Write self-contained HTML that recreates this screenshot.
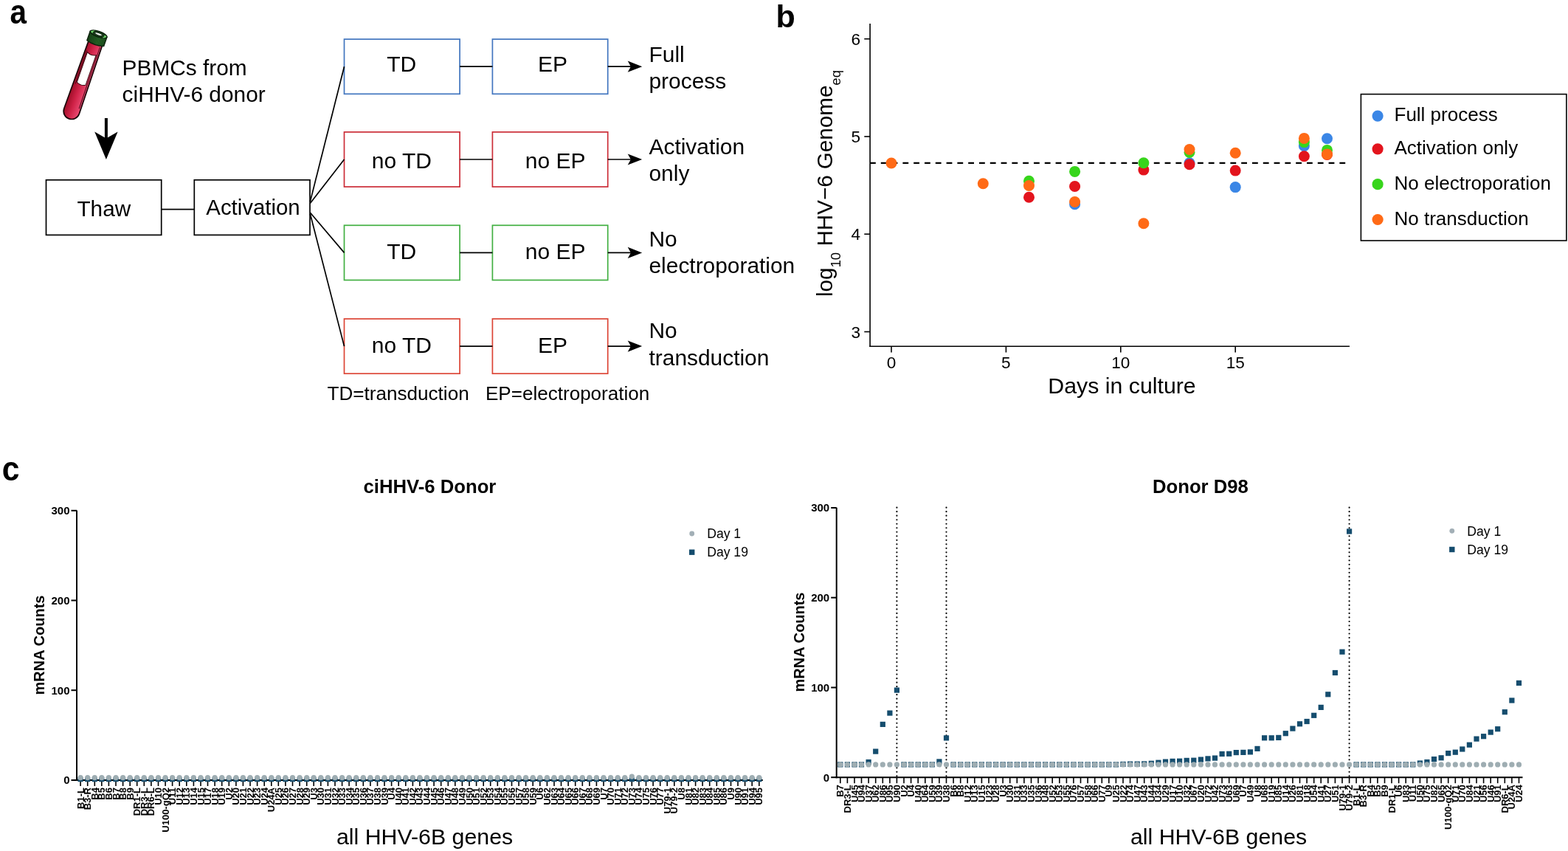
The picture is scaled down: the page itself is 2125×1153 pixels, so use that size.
<!DOCTYPE html>
<html><head><meta charset="utf-8"><title>Figure</title>
<style>html,body{margin:0;padding:0;background:#fff;} svg{display:block;}</style>
</head><body>
<svg width="2125" height="1153" viewBox="0 0 2125 1153" font-family="'Liberation Sans', Arial, Helvetica, sans-serif">
<rect width="2125" height="1153" fill="#fff"/>
<text transform="translate(13.4,32.1) scale(0.94,1.07)" font-size="43" font-weight="bold" fill="#000">a</text>
<defs><linearGradient id="tg" x1="-10" y1="0" x2="10" y2="0" gradientUnits="userSpaceOnUse"><stop offset="0" stop-color="#a30f2a"/><stop offset="0.45" stop-color="#cf2247"/><stop offset="1" stop-color="#ea4a72"/></linearGradient><linearGradient id="cg" x1="-12" y1="0" x2="12" y2="0" gradientUnits="userSpaceOnUse"><stop offset="0" stop-color="#1d4d1d"/><stop offset="0.6" stop-color="#2f7a2f"/><stop offset="1" stop-color="#245f24"/></linearGradient></defs>
<g transform="translate(133.6,46.3) rotate(19.3)">
<path d="M-9.8,12 L-10.9,110.5 A10.9,10.9 0 0 0 10.9,110.5 L9.8,12 Z" fill="url(#tg)" stroke="#1a0508" stroke-width="1.7"/>
<path d="M-6.2,28 Q0,31.5 6.2,28 L6.2,71 Q0,74.5 -6.2,71 Z" fill="#fff" stroke="#3a0a12" stroke-width="1"/>
<line x1="7.6" y1="16" x2="8.4" y2="104" stroke="#4a0a18" stroke-width="1"/>
<line x1="-7.6" y1="26" x2="-7.6" y2="74" stroke="#4a0a18" stroke-width="1"/>
<path d="M-12,0 L-12,13 Q0,17 12,13 L12,0 Z" fill="url(#cg)" stroke="#0b200b" stroke-width="1.5"/>
<line x1="-10" y1="2" x2="-10" y2="14.5" stroke="#123312" stroke-width="0.8"/>
<line x1="-8" y1="2" x2="-8" y2="14.5" stroke="#123312" stroke-width="0.8"/>
<line x1="-6" y1="2" x2="-6" y2="14.5" stroke="#123312" stroke-width="0.8"/>
<line x1="-4" y1="2" x2="-4" y2="14.5" stroke="#123312" stroke-width="0.8"/>
<line x1="-2" y1="2" x2="-2" y2="14.5" stroke="#123312" stroke-width="0.8"/>
<line x1="0" y1="2" x2="0" y2="14.5" stroke="#123312" stroke-width="0.8"/>
<line x1="2" y1="2" x2="2" y2="14.5" stroke="#123312" stroke-width="0.8"/>
<line x1="4" y1="2" x2="4" y2="14.5" stroke="#123312" stroke-width="0.8"/>
<line x1="6" y1="2" x2="6" y2="14.5" stroke="#123312" stroke-width="0.8"/>
<line x1="8" y1="2" x2="8" y2="14.5" stroke="#123312" stroke-width="0.8"/>
<line x1="10" y1="2" x2="10" y2="14.5" stroke="#123312" stroke-width="0.8"/>
<ellipse cx="0" cy="0" rx="12" ry="3.8" fill="#163816" stroke="#0b200b" stroke-width="1.4"/>
<path d="M-11.5,0.3 Q-10,-2.6 -6,-3 Q-9,-1 -8,1.8 Z" fill="#6fd36a"/>
<path d="M11.5,-0.3 Q10,2.6 6,3 Q9,1 8,-1.8 Z" fill="#6fd36a"/>
<ellipse cx="0" cy="0" rx="5.2" ry="1.7" fill="#e8f0e8" stroke="#0e240e" stroke-width="0.9"/>
</g>
<line x1="143.9" y1="160" x2="143.9" y2="190" stroke="#000" stroke-width="4"/>
<path d="M128.2,178.6 L143.9,187.5 L159.6,178.6 L143.9,216 Z" fill="#000"/>
<text x="165.6" y="101.8" font-size="29.85" fill="#000">PBMCs from</text>
<text x="165.6" y="137.5" font-size="29.85" fill="#000">ciHHV-6 donor</text>
<rect x="62.5" y="243.8" width="156.2" height="74.6" fill="none" stroke-width="1.7" stroke="#000"/>
<rect x="263.3" y="243.8" width="156.7" height="74.6" fill="none" stroke-width="1.7" stroke="#000"/>
<line x1="218.7" y1="283.6" x2="263.3" y2="283.6" stroke="#000" stroke-width="1.7"/>
<text x="140.8" y="292.5" font-size="29.7" text-anchor="middle" fill="#000">Thaw</text>
<text x="343" y="291.3" font-size="29.4" text-anchor="middle" fill="#000">Activation</text>
<rect x="466.5" y="53.1" width="156.6" height="74.2" fill="none" stroke-width="1.7" stroke="#4276bf"/>
<rect x="667.4" y="53.1" width="156.3" height="74.2" fill="none" stroke-width="1.7" stroke="#4276bf"/>
<line x1="623.1" y1="90.2" x2="667.4" y2="90.2" stroke="#000" stroke-width="1.7"/>
<line x1="420.3" y1="273.4" x2="466.5" y2="90.2" stroke="#000" stroke-width="1.7"/>
<line x1="823.7" y1="90.2" x2="856" y2="90.2" stroke="#000" stroke-width="1.7"/>
<path d="M850.7,82.6 L870.2,90.2 L850.7,97.8 L854.9,90.2 Z" fill="#000"/>
<text x="544.3" y="97.4" font-size="30.0" text-anchor="middle" fill="#000">TD</text>
<text x="749" y="97.4" font-size="30.0" text-anchor="middle" fill="#000">EP</text>
<text x="879.5" y="84.3" font-size="29.9" fill="#000">Full</text>
<text x="879.5" y="120.0" font-size="29.9" fill="#000">process</text>
<rect x="466.5" y="178.9" width="156.6" height="74.2" fill="none" stroke-width="1.7" stroke="#cc2e38"/>
<rect x="667.4" y="178.9" width="156.3" height="74.2" fill="none" stroke-width="1.7" stroke="#cc2e38"/>
<line x1="623.1" y1="216.0" x2="667.4" y2="216.0" stroke="#000" stroke-width="1.7"/>
<line x1="420.3" y1="275.5" x2="466.5" y2="216.0" stroke="#000" stroke-width="1.7"/>
<line x1="823.7" y1="216.0" x2="856" y2="216.0" stroke="#000" stroke-width="1.7"/>
<path d="M850.7,208.4 L870.2,216.0 L850.7,223.6 L854.9,216.0 Z" fill="#000"/>
<text x="544.3" y="228.3" font-size="30.0" text-anchor="middle" fill="#000">no TD</text>
<text x="752.7" y="228.3" font-size="30.0" text-anchor="middle" fill="#000">no EP</text>
<text x="879.5" y="209.1" font-size="29.9" fill="#000">Activation</text>
<text x="879.5" y="245.0" font-size="29.9" fill="#000">only</text>
<rect x="466.5" y="305.3" width="156.6" height="74.2" fill="none" stroke-width="1.7" stroke="#42b042"/>
<rect x="667.4" y="305.3" width="156.3" height="74.2" fill="none" stroke-width="1.7" stroke="#42b042"/>
<line x1="623.1" y1="342.4" x2="667.4" y2="342.4" stroke="#000" stroke-width="1.7"/>
<line x1="420.3" y1="288.0" x2="466.5" y2="342.4" stroke="#000" stroke-width="1.7"/>
<line x1="823.7" y1="342.4" x2="856" y2="342.4" stroke="#000" stroke-width="1.7"/>
<path d="M850.7,334.8 L870.2,342.4 L850.7,350.0 L854.9,342.4 Z" fill="#000"/>
<text x="544.3" y="350.9" font-size="30.0" text-anchor="middle" fill="#000">TD</text>
<text x="752.7" y="350.9" font-size="30.0" text-anchor="middle" fill="#000">no EP</text>
<text x="879.5" y="334.1" font-size="29.9" fill="#000">No</text>
<text x="879.5" y="370.2" font-size="29.9" fill="#000">electroporation</text>
<rect x="466.5" y="432.0" width="156.6" height="74.2" fill="none" stroke-width="1.7" stroke="#dc4536"/>
<rect x="667.4" y="432.0" width="156.3" height="74.2" fill="none" stroke-width="1.7" stroke="#dc4536"/>
<line x1="623.1" y1="469.1" x2="667.4" y2="469.1" stroke="#000" stroke-width="1.7"/>
<line x1="420.3" y1="289.5" x2="466.5" y2="469.1" stroke="#000" stroke-width="1.7"/>
<line x1="823.7" y1="469.1" x2="856" y2="469.1" stroke="#000" stroke-width="1.7"/>
<path d="M850.7,461.5 L870.2,469.1 L850.7,476.7 L854.9,469.1 Z" fill="#000"/>
<text x="544.3" y="478.4" font-size="30.0" text-anchor="middle" fill="#000">no TD</text>
<text x="749" y="478.4" font-size="30.0" text-anchor="middle" fill="#000">EP</text>
<text x="879.5" y="458.1" font-size="29.9" fill="#000">No</text>
<text x="879.5" y="495.0" font-size="29.9" fill="#000">transduction</text>
<text x="443.5" y="542.3" font-size="26.1" fill="#000">TD=transduction</text>
<text x="658.0" y="542.3" font-size="26.05" fill="#000">EP=electroporation</text>
<text x="1051.5" y="37.3" font-size="43" font-weight="bold" fill="#000">b</text>
<line x1="1179.1" y1="32" x2="1179.1" y2="470.0" stroke="#000" stroke-width="1.6"/>
<line x1="1178.3" y1="469.2" x2="1829" y2="469.2" stroke="#000" stroke-width="1.6"/>
<line x1="1171.3" y1="52.7" x2="1179.1" y2="52.7" stroke="#000" stroke-width="1.6"/>
<text x="1166" y="60.800000000000004" font-size="22.6" text-anchor="end" fill="#000">6</text>
<line x1="1171.3" y1="185.0" x2="1179.1" y2="185.0" stroke="#000" stroke-width="1.6"/>
<text x="1166" y="193.07000000000002" font-size="22.6" text-anchor="end" fill="#000">5</text>
<line x1="1171.3" y1="317.2" x2="1179.1" y2="317.2" stroke="#000" stroke-width="1.6"/>
<text x="1166" y="325.34000000000003" font-size="22.6" text-anchor="end" fill="#000">4</text>
<line x1="1171.3" y1="449.5" x2="1179.1" y2="449.5" stroke="#000" stroke-width="1.6"/>
<text x="1166" y="457.61000000000007" font-size="22.6" text-anchor="end" fill="#000">3</text>
<line x1="1208.0" y1="469.2" x2="1208.0" y2="477.5" stroke="#000" stroke-width="1.6"/>
<text x="1208.0" y="499.4" font-size="22.6" text-anchor="middle" fill="#000">0</text>
<line x1="1363.4" y1="469.2" x2="1363.4" y2="477.5" stroke="#000" stroke-width="1.6"/>
<text x="1363.4" y="499.4" font-size="22.6" text-anchor="middle" fill="#000">5</text>
<line x1="1518.8" y1="469.2" x2="1518.8" y2="477.5" stroke="#000" stroke-width="1.6"/>
<text x="1518.8" y="499.4" font-size="22.6" text-anchor="middle" fill="#000">10</text>
<line x1="1674.2" y1="469.2" x2="1674.2" y2="477.5" stroke="#000" stroke-width="1.6"/>
<text x="1674.2" y="499.4" font-size="22.6" text-anchor="middle" fill="#000">15</text>
<text x="1520.5" y="532.6" font-size="30.3" text-anchor="middle" fill="#000">Days in culture</text>
<text transform="translate(1128,402) rotate(-90)" font-size="29.6" fill="#000">log<tspan font-size="18.6" dy="11">10</tspan><tspan dy="-11"> HHV−6 Genome</tspan><tspan font-size="18.6" dy="11">eq</tspan></text>
<line x1="1179" y1="220.9" x2="1827" y2="220.9" stroke="#000" stroke-width="2.1" stroke-dasharray="7.8 7"/>
<circle cx="1456.6" cy="276.8" r="7.5" fill="#3a86e6"/>
<circle cx="1612.0" cy="220.7" r="7.5" fill="#3a86e6"/>
<circle cx="1674.2" cy="253.6" r="7.5" fill="#3a86e6"/>
<circle cx="1767.4" cy="197.8" r="7.5" fill="#3a86e6"/>
<circle cx="1798.5" cy="187.8" r="7.5" fill="#3a86e6"/>
<circle cx="1394.5" cy="267.3" r="7.5" fill="#e3141d"/>
<circle cx="1456.6" cy="252.5" r="7.5" fill="#e3141d"/>
<circle cx="1549.9" cy="230.1" r="7.5" fill="#e3141d"/>
<circle cx="1612.0" cy="222.7" r="7.5" fill="#e3141d"/>
<circle cx="1674.2" cy="231.1" r="7.5" fill="#e3141d"/>
<circle cx="1767.4" cy="211.7" r="7.5" fill="#e3141d"/>
<circle cx="1798.5" cy="209.5" r="7.5" fill="#e3141d"/>
<circle cx="1394.5" cy="245.3" r="7.5" fill="#37d51b"/>
<circle cx="1456.6" cy="232.4" r="7.5" fill="#37d51b"/>
<circle cx="1549.9" cy="220.7" r="7.5" fill="#37d51b"/>
<circle cx="1612.0" cy="206.4" r="7.5" fill="#37d51b"/>
<circle cx="1767.4" cy="192.6" r="7.5" fill="#37d51b"/>
<circle cx="1798.5" cy="203.4" r="7.5" fill="#37d51b"/>
<circle cx="1208.0" cy="221.0" r="7.5" fill="#ff6a16"/>
<circle cx="1332.3" cy="248.7" r="7.5" fill="#ff6a16"/>
<circle cx="1394.5" cy="251.5" r="7.5" fill="#ff6a16"/>
<circle cx="1456.6" cy="273.5" r="7.5" fill="#ff6a16"/>
<circle cx="1549.9" cy="302.7" r="7.5" fill="#ff6a16"/>
<circle cx="1612.0" cy="202.5" r="7.5" fill="#ff6a16"/>
<circle cx="1674.2" cy="207.3" r="7.5" fill="#ff6a16"/>
<circle cx="1767.4" cy="187.4" r="7.5" fill="#ff6a16"/>
<circle cx="1798.5" cy="208.9" r="7.5" fill="#ff6a16"/>
<rect x="1844.4" y="127.6" width="278.5" height="198.4" fill="none" stroke="#000" stroke-width="1.6"/>
<circle cx="1867.1" cy="157.1" r="7.6" fill="#3a86e6"/>
<text x="1889.5" y="164.29999999999998" font-size="26" fill="#000">Full process</text>
<circle cx="1867.1" cy="201.8" r="7.6" fill="#e3141d"/>
<text x="1889.5" y="209.0" font-size="26" fill="#000">Activation only</text>
<circle cx="1867.1" cy="249.7" r="7.6" fill="#37d51b"/>
<text x="1889.5" y="256.9" font-size="26" fill="#000">No electroporation</text>
<circle cx="1867.1" cy="297.5" r="7.6" fill="#ff6a16"/>
<text x="1889.5" y="304.7" font-size="26" fill="#000">No transduction</text>
<text transform="translate(2.8,650.5) scale(0.99,1.08)" font-size="43" font-weight="bold" fill="#000">c</text>
<line x1="104" y1="691.5" x2="104" y2="1058.0" stroke="#000" stroke-width="2"/>
<line x1="103" y1="1057.0" x2="1033.8" y2="1057.0" stroke="#000" stroke-width="2"/>
<line x1="96.5" y1="1057.0" x2="104" y2="1057.0" stroke="#000" stroke-width="2"/>
<text x="94.5" y="1062.4" font-size="15" font-weight="bold" text-anchor="end" fill="#000">0</text>
<line x1="96.5" y1="935.2" x2="104" y2="935.2" stroke="#000" stroke-width="2"/>
<text x="94.5" y="940.65" font-size="15" font-weight="bold" text-anchor="end" fill="#000">100</text>
<line x1="96.5" y1="813.5" x2="104" y2="813.5" stroke="#000" stroke-width="2"/>
<text x="94.5" y="818.9" font-size="15" font-weight="bold" text-anchor="end" fill="#000">200</text>
<line x1="96.5" y1="691.8" x2="104" y2="691.8" stroke="#000" stroke-width="2"/>
<text x="94.5" y="697.15" font-size="15" font-weight="bold" text-anchor="end" fill="#000">300</text>
<line x1="109.1" y1="1057.0" x2="109.1" y2="1065.0" stroke="#000" stroke-width="1.6"/>
<text transform="translate(113.6,1067.0) rotate(-90)" font-size="13" font-weight="bold" text-anchor="end" fill="#000">B1-L</text>
<line x1="118.7" y1="1057.0" x2="118.7" y2="1065.0" stroke="#000" stroke-width="1.6"/>
<text transform="translate(123.2,1067.0) rotate(-90)" font-size="13" font-weight="bold" text-anchor="end" fill="#000">B3-R</text>
<line x1="128.3" y1="1057.0" x2="128.3" y2="1065.0" stroke="#000" stroke-width="1.6"/>
<text transform="translate(132.8,1067.0) rotate(-90)" font-size="13" font-weight="bold" text-anchor="end" fill="#000">B4</text>
<line x1="137.8" y1="1057.0" x2="137.8" y2="1065.0" stroke="#000" stroke-width="1.6"/>
<text transform="translate(142.3,1067.0) rotate(-90)" font-size="13" font-weight="bold" text-anchor="end" fill="#000">B5</text>
<line x1="147.4" y1="1057.0" x2="147.4" y2="1065.0" stroke="#000" stroke-width="1.6"/>
<text transform="translate(151.9,1067.0) rotate(-90)" font-size="13" font-weight="bold" text-anchor="end" fill="#000">B6</text>
<line x1="157.0" y1="1057.0" x2="157.0" y2="1065.0" stroke="#000" stroke-width="1.6"/>
<text transform="translate(161.5,1067.0) rotate(-90)" font-size="13" font-weight="bold" text-anchor="end" fill="#000">B7</text>
<line x1="166.6" y1="1057.0" x2="166.6" y2="1065.0" stroke="#000" stroke-width="1.6"/>
<text transform="translate(171.1,1067.0) rotate(-90)" font-size="13" font-weight="bold" text-anchor="end" fill="#000">B8</text>
<line x1="176.2" y1="1057.0" x2="176.2" y2="1065.0" stroke="#000" stroke-width="1.6"/>
<text transform="translate(180.7,1067.0) rotate(-90)" font-size="13" font-weight="bold" text-anchor="end" fill="#000">B9</text>
<line x1="185.7" y1="1057.0" x2="185.7" y2="1065.0" stroke="#000" stroke-width="1.6"/>
<text transform="translate(190.2,1067.0) rotate(-90)" font-size="13" font-weight="bold" text-anchor="end" fill="#000">DR1-L</text>
<line x1="195.3" y1="1057.0" x2="195.3" y2="1065.0" stroke="#000" stroke-width="1.6"/>
<text transform="translate(199.8,1067.0) rotate(-90)" font-size="13" font-weight="bold" text-anchor="end" fill="#000">DR3-L</text>
<line x1="204.9" y1="1057.0" x2="204.9" y2="1065.0" stroke="#000" stroke-width="1.6"/>
<text transform="translate(209.4,1067.0) rotate(-90)" font-size="13" font-weight="bold" text-anchor="end" fill="#000">DR6-L</text>
<line x1="214.5" y1="1057.0" x2="214.5" y2="1065.0" stroke="#000" stroke-width="1.6"/>
<text transform="translate(219.0,1067.0) rotate(-90)" font-size="13" font-weight="bold" text-anchor="end" fill="#000">U10</text>
<line x1="224.1" y1="1057.0" x2="224.1" y2="1065.0" stroke="#000" stroke-width="1.6"/>
<text transform="translate(228.6,1067.0) rotate(-90)" font-size="13" font-weight="bold" text-anchor="end" fill="#000">U100-gQ2</text>
<line x1="233.6" y1="1057.0" x2="233.6" y2="1065.0" stroke="#000" stroke-width="1.6"/>
<text transform="translate(238.1,1067.0) rotate(-90)" font-size="13" font-weight="bold" text-anchor="end" fill="#000">U11</text>
<line x1="243.2" y1="1057.0" x2="243.2" y2="1065.0" stroke="#000" stroke-width="1.6"/>
<text transform="translate(247.7,1067.0) rotate(-90)" font-size="13" font-weight="bold" text-anchor="end" fill="#000">U12</text>
<line x1="252.8" y1="1057.0" x2="252.8" y2="1065.0" stroke="#000" stroke-width="1.6"/>
<text transform="translate(257.3,1067.0) rotate(-90)" font-size="13" font-weight="bold" text-anchor="end" fill="#000">U13</text>
<line x1="262.4" y1="1057.0" x2="262.4" y2="1065.0" stroke="#000" stroke-width="1.6"/>
<text transform="translate(266.9,1067.0) rotate(-90)" font-size="13" font-weight="bold" text-anchor="end" fill="#000">U14</text>
<line x1="272.0" y1="1057.0" x2="272.0" y2="1065.0" stroke="#000" stroke-width="1.6"/>
<text transform="translate(276.5,1067.0) rotate(-90)" font-size="13" font-weight="bold" text-anchor="end" fill="#000">U15</text>
<line x1="281.5" y1="1057.0" x2="281.5" y2="1065.0" stroke="#000" stroke-width="1.6"/>
<text transform="translate(286.0,1067.0) rotate(-90)" font-size="13" font-weight="bold" text-anchor="end" fill="#000">U17</text>
<line x1="291.1" y1="1057.0" x2="291.1" y2="1065.0" stroke="#000" stroke-width="1.6"/>
<text transform="translate(295.6,1067.0) rotate(-90)" font-size="13" font-weight="bold" text-anchor="end" fill="#000">U18</text>
<line x1="300.7" y1="1057.0" x2="300.7" y2="1065.0" stroke="#000" stroke-width="1.6"/>
<text transform="translate(305.2,1067.0) rotate(-90)" font-size="13" font-weight="bold" text-anchor="end" fill="#000">U19</text>
<line x1="310.3" y1="1057.0" x2="310.3" y2="1065.0" stroke="#000" stroke-width="1.6"/>
<text transform="translate(314.8,1067.0) rotate(-90)" font-size="13" font-weight="bold" text-anchor="end" fill="#000">U2</text>
<line x1="319.9" y1="1057.0" x2="319.9" y2="1065.0" stroke="#000" stroke-width="1.6"/>
<text transform="translate(324.4,1067.0) rotate(-90)" font-size="13" font-weight="bold" text-anchor="end" fill="#000">U20</text>
<line x1="329.4" y1="1057.0" x2="329.4" y2="1065.0" stroke="#000" stroke-width="1.6"/>
<text transform="translate(333.9,1067.0) rotate(-90)" font-size="13" font-weight="bold" text-anchor="end" fill="#000">U21</text>
<line x1="339.0" y1="1057.0" x2="339.0" y2="1065.0" stroke="#000" stroke-width="1.6"/>
<text transform="translate(343.5,1067.0) rotate(-90)" font-size="13" font-weight="bold" text-anchor="end" fill="#000">U22</text>
<line x1="348.6" y1="1057.0" x2="348.6" y2="1065.0" stroke="#000" stroke-width="1.6"/>
<text transform="translate(353.1,1067.0) rotate(-90)" font-size="13" font-weight="bold" text-anchor="end" fill="#000">U23</text>
<line x1="358.2" y1="1057.0" x2="358.2" y2="1065.0" stroke="#000" stroke-width="1.6"/>
<text transform="translate(362.7,1067.0) rotate(-90)" font-size="13" font-weight="bold" text-anchor="end" fill="#000">U24</text>
<line x1="367.8" y1="1057.0" x2="367.8" y2="1065.0" stroke="#000" stroke-width="1.6"/>
<text transform="translate(372.3,1067.0) rotate(-90)" font-size="13" font-weight="bold" text-anchor="end" fill="#000">U24A</text>
<line x1="377.3" y1="1057.0" x2="377.3" y2="1065.0" stroke="#000" stroke-width="1.6"/>
<text transform="translate(381.8,1067.0) rotate(-90)" font-size="13" font-weight="bold" text-anchor="end" fill="#000">U25</text>
<line x1="386.9" y1="1057.0" x2="386.9" y2="1065.0" stroke="#000" stroke-width="1.6"/>
<text transform="translate(391.4,1067.0) rotate(-90)" font-size="13" font-weight="bold" text-anchor="end" fill="#000">U26</text>
<line x1="396.5" y1="1057.0" x2="396.5" y2="1065.0" stroke="#000" stroke-width="1.6"/>
<text transform="translate(401.0,1067.0) rotate(-90)" font-size="13" font-weight="bold" text-anchor="end" fill="#000">U27</text>
<line x1="406.1" y1="1057.0" x2="406.1" y2="1065.0" stroke="#000" stroke-width="1.6"/>
<text transform="translate(410.6,1067.0) rotate(-90)" font-size="13" font-weight="bold" text-anchor="end" fill="#000">U28</text>
<line x1="415.7" y1="1057.0" x2="415.7" y2="1065.0" stroke="#000" stroke-width="1.6"/>
<text transform="translate(420.2,1067.0) rotate(-90)" font-size="13" font-weight="bold" text-anchor="end" fill="#000">U29</text>
<line x1="425.2" y1="1057.0" x2="425.2" y2="1065.0" stroke="#000" stroke-width="1.6"/>
<text transform="translate(429.7,1067.0) rotate(-90)" font-size="13" font-weight="bold" text-anchor="end" fill="#000">U3</text>
<line x1="434.8" y1="1057.0" x2="434.8" y2="1065.0" stroke="#000" stroke-width="1.6"/>
<text transform="translate(439.3,1067.0) rotate(-90)" font-size="13" font-weight="bold" text-anchor="end" fill="#000">U30</text>
<line x1="444.4" y1="1057.0" x2="444.4" y2="1065.0" stroke="#000" stroke-width="1.6"/>
<text transform="translate(448.9,1067.0) rotate(-90)" font-size="13" font-weight="bold" text-anchor="end" fill="#000">U31</text>
<line x1="454.0" y1="1057.0" x2="454.0" y2="1065.0" stroke="#000" stroke-width="1.6"/>
<text transform="translate(458.5,1067.0) rotate(-90)" font-size="13" font-weight="bold" text-anchor="end" fill="#000">U32</text>
<line x1="463.6" y1="1057.0" x2="463.6" y2="1065.0" stroke="#000" stroke-width="1.6"/>
<text transform="translate(468.1,1067.0) rotate(-90)" font-size="13" font-weight="bold" text-anchor="end" fill="#000">U33</text>
<line x1="473.1" y1="1057.0" x2="473.1" y2="1065.0" stroke="#000" stroke-width="1.6"/>
<text transform="translate(477.6,1067.0) rotate(-90)" font-size="13" font-weight="bold" text-anchor="end" fill="#000">U34</text>
<line x1="482.7" y1="1057.0" x2="482.7" y2="1065.0" stroke="#000" stroke-width="1.6"/>
<text transform="translate(487.2,1067.0) rotate(-90)" font-size="13" font-weight="bold" text-anchor="end" fill="#000">U35</text>
<line x1="492.3" y1="1057.0" x2="492.3" y2="1065.0" stroke="#000" stroke-width="1.6"/>
<text transform="translate(496.8,1067.0) rotate(-90)" font-size="13" font-weight="bold" text-anchor="end" fill="#000">U36</text>
<line x1="501.9" y1="1057.0" x2="501.9" y2="1065.0" stroke="#000" stroke-width="1.6"/>
<text transform="translate(506.4,1067.0) rotate(-90)" font-size="13" font-weight="bold" text-anchor="end" fill="#000">U37</text>
<line x1="511.5" y1="1057.0" x2="511.5" y2="1065.0" stroke="#000" stroke-width="1.6"/>
<text transform="translate(516.0,1067.0) rotate(-90)" font-size="13" font-weight="bold" text-anchor="end" fill="#000">U38</text>
<line x1="521.0" y1="1057.0" x2="521.0" y2="1065.0" stroke="#000" stroke-width="1.6"/>
<text transform="translate(525.5,1067.0) rotate(-90)" font-size="13" font-weight="bold" text-anchor="end" fill="#000">U39</text>
<line x1="530.6" y1="1057.0" x2="530.6" y2="1065.0" stroke="#000" stroke-width="1.6"/>
<text transform="translate(535.1,1067.0) rotate(-90)" font-size="13" font-weight="bold" text-anchor="end" fill="#000">U4</text>
<line x1="540.2" y1="1057.0" x2="540.2" y2="1065.0" stroke="#000" stroke-width="1.6"/>
<text transform="translate(544.7,1067.0) rotate(-90)" font-size="13" font-weight="bold" text-anchor="end" fill="#000">U40</text>
<line x1="549.8" y1="1057.0" x2="549.8" y2="1065.0" stroke="#000" stroke-width="1.6"/>
<text transform="translate(554.3,1067.0) rotate(-90)" font-size="13" font-weight="bold" text-anchor="end" fill="#000">U41</text>
<line x1="559.4" y1="1057.0" x2="559.4" y2="1065.0" stroke="#000" stroke-width="1.6"/>
<text transform="translate(563.9,1067.0) rotate(-90)" font-size="13" font-weight="bold" text-anchor="end" fill="#000">U42</text>
<line x1="568.9" y1="1057.0" x2="568.9" y2="1065.0" stroke="#000" stroke-width="1.6"/>
<text transform="translate(573.4,1067.0) rotate(-90)" font-size="13" font-weight="bold" text-anchor="end" fill="#000">U43</text>
<line x1="578.5" y1="1057.0" x2="578.5" y2="1065.0" stroke="#000" stroke-width="1.6"/>
<text transform="translate(583.0,1067.0) rotate(-90)" font-size="13" font-weight="bold" text-anchor="end" fill="#000">U44</text>
<line x1="588.1" y1="1057.0" x2="588.1" y2="1065.0" stroke="#000" stroke-width="1.6"/>
<text transform="translate(592.6,1067.0) rotate(-90)" font-size="13" font-weight="bold" text-anchor="end" fill="#000">U45</text>
<line x1="597.7" y1="1057.0" x2="597.7" y2="1065.0" stroke="#000" stroke-width="1.6"/>
<text transform="translate(602.2,1067.0) rotate(-90)" font-size="13" font-weight="bold" text-anchor="end" fill="#000">U46</text>
<line x1="607.3" y1="1057.0" x2="607.3" y2="1065.0" stroke="#000" stroke-width="1.6"/>
<text transform="translate(611.8,1067.0) rotate(-90)" font-size="13" font-weight="bold" text-anchor="end" fill="#000">U47</text>
<line x1="616.8" y1="1057.0" x2="616.8" y2="1065.0" stroke="#000" stroke-width="1.6"/>
<text transform="translate(621.3,1067.0) rotate(-90)" font-size="13" font-weight="bold" text-anchor="end" fill="#000">U48</text>
<line x1="626.4" y1="1057.0" x2="626.4" y2="1065.0" stroke="#000" stroke-width="1.6"/>
<text transform="translate(630.9,1067.0) rotate(-90)" font-size="13" font-weight="bold" text-anchor="end" fill="#000">U49</text>
<line x1="636.0" y1="1057.0" x2="636.0" y2="1065.0" stroke="#000" stroke-width="1.6"/>
<text transform="translate(640.5,1067.0) rotate(-90)" font-size="13" font-weight="bold" text-anchor="end" fill="#000">U50</text>
<line x1="645.6" y1="1057.0" x2="645.6" y2="1065.0" stroke="#000" stroke-width="1.6"/>
<text transform="translate(650.1,1067.0) rotate(-90)" font-size="13" font-weight="bold" text-anchor="end" fill="#000">U51</text>
<line x1="655.2" y1="1057.0" x2="655.2" y2="1065.0" stroke="#000" stroke-width="1.6"/>
<text transform="translate(659.7,1067.0) rotate(-90)" font-size="13" font-weight="bold" text-anchor="end" fill="#000">U52</text>
<line x1="664.7" y1="1057.0" x2="664.7" y2="1065.0" stroke="#000" stroke-width="1.6"/>
<text transform="translate(669.2,1067.0) rotate(-90)" font-size="13" font-weight="bold" text-anchor="end" fill="#000">U53</text>
<line x1="674.3" y1="1057.0" x2="674.3" y2="1065.0" stroke="#000" stroke-width="1.6"/>
<text transform="translate(678.8,1067.0) rotate(-90)" font-size="13" font-weight="bold" text-anchor="end" fill="#000">U54</text>
<line x1="683.9" y1="1057.0" x2="683.9" y2="1065.0" stroke="#000" stroke-width="1.6"/>
<text transform="translate(688.4,1067.0) rotate(-90)" font-size="13" font-weight="bold" text-anchor="end" fill="#000">U55</text>
<line x1="693.5" y1="1057.0" x2="693.5" y2="1065.0" stroke="#000" stroke-width="1.6"/>
<text transform="translate(698.0,1067.0) rotate(-90)" font-size="13" font-weight="bold" text-anchor="end" fill="#000">U56</text>
<line x1="703.1" y1="1057.0" x2="703.1" y2="1065.0" stroke="#000" stroke-width="1.6"/>
<text transform="translate(707.6,1067.0) rotate(-90)" font-size="13" font-weight="bold" text-anchor="end" fill="#000">U57</text>
<line x1="712.6" y1="1057.0" x2="712.6" y2="1065.0" stroke="#000" stroke-width="1.6"/>
<text transform="translate(717.1,1067.0) rotate(-90)" font-size="13" font-weight="bold" text-anchor="end" fill="#000">U58</text>
<line x1="722.2" y1="1057.0" x2="722.2" y2="1065.0" stroke="#000" stroke-width="1.6"/>
<text transform="translate(726.7,1067.0) rotate(-90)" font-size="13" font-weight="bold" text-anchor="end" fill="#000">U59</text>
<line x1="731.8" y1="1057.0" x2="731.8" y2="1065.0" stroke="#000" stroke-width="1.6"/>
<text transform="translate(736.3,1067.0) rotate(-90)" font-size="13" font-weight="bold" text-anchor="end" fill="#000">U6</text>
<line x1="741.4" y1="1057.0" x2="741.4" y2="1065.0" stroke="#000" stroke-width="1.6"/>
<text transform="translate(745.9,1067.0) rotate(-90)" font-size="13" font-weight="bold" text-anchor="end" fill="#000">U62</text>
<line x1="751.0" y1="1057.0" x2="751.0" y2="1065.0" stroke="#000" stroke-width="1.6"/>
<text transform="translate(755.5,1067.0) rotate(-90)" font-size="13" font-weight="bold" text-anchor="end" fill="#000">U63</text>
<line x1="760.5" y1="1057.0" x2="760.5" y2="1065.0" stroke="#000" stroke-width="1.6"/>
<text transform="translate(765.0,1067.0) rotate(-90)" font-size="13" font-weight="bold" text-anchor="end" fill="#000">U64</text>
<line x1="770.1" y1="1057.0" x2="770.1" y2="1065.0" stroke="#000" stroke-width="1.6"/>
<text transform="translate(774.6,1067.0) rotate(-90)" font-size="13" font-weight="bold" text-anchor="end" fill="#000">U65</text>
<line x1="779.7" y1="1057.0" x2="779.7" y2="1065.0" stroke="#000" stroke-width="1.6"/>
<text transform="translate(784.2,1067.0) rotate(-90)" font-size="13" font-weight="bold" text-anchor="end" fill="#000">U66</text>
<line x1="789.3" y1="1057.0" x2="789.3" y2="1065.0" stroke="#000" stroke-width="1.6"/>
<text transform="translate(793.8,1067.0) rotate(-90)" font-size="13" font-weight="bold" text-anchor="end" fill="#000">U67</text>
<line x1="798.9" y1="1057.0" x2="798.9" y2="1065.0" stroke="#000" stroke-width="1.6"/>
<text transform="translate(803.4,1067.0) rotate(-90)" font-size="13" font-weight="bold" text-anchor="end" fill="#000">U68</text>
<line x1="808.4" y1="1057.0" x2="808.4" y2="1065.0" stroke="#000" stroke-width="1.6"/>
<text transform="translate(812.9,1067.0) rotate(-90)" font-size="13" font-weight="bold" text-anchor="end" fill="#000">U69</text>
<line x1="818.0" y1="1057.0" x2="818.0" y2="1065.0" stroke="#000" stroke-width="1.6"/>
<text transform="translate(822.5,1067.0) rotate(-90)" font-size="13" font-weight="bold" text-anchor="end" fill="#000">U7</text>
<line x1="827.6" y1="1057.0" x2="827.6" y2="1065.0" stroke="#000" stroke-width="1.6"/>
<text transform="translate(832.1,1067.0) rotate(-90)" font-size="13" font-weight="bold" text-anchor="end" fill="#000">U70</text>
<line x1="837.2" y1="1057.0" x2="837.2" y2="1065.0" stroke="#000" stroke-width="1.6"/>
<text transform="translate(841.7,1067.0) rotate(-90)" font-size="13" font-weight="bold" text-anchor="end" fill="#000">U71</text>
<line x1="846.8" y1="1057.0" x2="846.8" y2="1065.0" stroke="#000" stroke-width="1.6"/>
<text transform="translate(851.3,1067.0) rotate(-90)" font-size="13" font-weight="bold" text-anchor="end" fill="#000">U72</text>
<line x1="856.3" y1="1057.0" x2="856.3" y2="1065.0" stroke="#000" stroke-width="1.6"/>
<text transform="translate(860.8,1067.0) rotate(-90)" font-size="13" font-weight="bold" text-anchor="end" fill="#000">U73</text>
<line x1="865.9" y1="1057.0" x2="865.9" y2="1065.0" stroke="#000" stroke-width="1.6"/>
<text transform="translate(870.4,1067.0) rotate(-90)" font-size="13" font-weight="bold" text-anchor="end" fill="#000">U74</text>
<line x1="875.5" y1="1057.0" x2="875.5" y2="1065.0" stroke="#000" stroke-width="1.6"/>
<text transform="translate(880.0,1067.0) rotate(-90)" font-size="13" font-weight="bold" text-anchor="end" fill="#000">U75</text>
<line x1="885.1" y1="1057.0" x2="885.1" y2="1065.0" stroke="#000" stroke-width="1.6"/>
<text transform="translate(889.6,1067.0) rotate(-90)" font-size="13" font-weight="bold" text-anchor="end" fill="#000">U76</text>
<line x1="894.7" y1="1057.0" x2="894.7" y2="1065.0" stroke="#000" stroke-width="1.6"/>
<text transform="translate(899.2,1067.0) rotate(-90)" font-size="13" font-weight="bold" text-anchor="end" fill="#000">U77</text>
<line x1="904.2" y1="1057.0" x2="904.2" y2="1065.0" stroke="#000" stroke-width="1.6"/>
<text transform="translate(908.7,1067.0) rotate(-90)" font-size="13" font-weight="bold" text-anchor="end" fill="#000">U79-1</text>
<line x1="913.8" y1="1057.0" x2="913.8" y2="1065.0" stroke="#000" stroke-width="1.6"/>
<text transform="translate(918.3,1067.0) rotate(-90)" font-size="13" font-weight="bold" text-anchor="end" fill="#000">U79-2</text>
<line x1="923.4" y1="1057.0" x2="923.4" y2="1065.0" stroke="#000" stroke-width="1.6"/>
<text transform="translate(927.9,1067.0) rotate(-90)" font-size="13" font-weight="bold" text-anchor="end" fill="#000">U8</text>
<line x1="933.0" y1="1057.0" x2="933.0" y2="1065.0" stroke="#000" stroke-width="1.6"/>
<text transform="translate(937.5,1067.0) rotate(-90)" font-size="13" font-weight="bold" text-anchor="end" fill="#000">U81</text>
<line x1="942.6" y1="1057.0" x2="942.6" y2="1065.0" stroke="#000" stroke-width="1.6"/>
<text transform="translate(947.1,1067.0) rotate(-90)" font-size="13" font-weight="bold" text-anchor="end" fill="#000">U82</text>
<line x1="952.1" y1="1057.0" x2="952.1" y2="1065.0" stroke="#000" stroke-width="1.6"/>
<text transform="translate(956.6,1067.0) rotate(-90)" font-size="13" font-weight="bold" text-anchor="end" fill="#000">U83</text>
<line x1="961.7" y1="1057.0" x2="961.7" y2="1065.0" stroke="#000" stroke-width="1.6"/>
<text transform="translate(966.2,1067.0) rotate(-90)" font-size="13" font-weight="bold" text-anchor="end" fill="#000">U84</text>
<line x1="971.3" y1="1057.0" x2="971.3" y2="1065.0" stroke="#000" stroke-width="1.6"/>
<text transform="translate(975.8,1067.0) rotate(-90)" font-size="13" font-weight="bold" text-anchor="end" fill="#000">U85</text>
<line x1="980.9" y1="1057.0" x2="980.9" y2="1065.0" stroke="#000" stroke-width="1.6"/>
<text transform="translate(985.4,1067.0) rotate(-90)" font-size="13" font-weight="bold" text-anchor="end" fill="#000">U86</text>
<line x1="990.5" y1="1057.0" x2="990.5" y2="1065.0" stroke="#000" stroke-width="1.6"/>
<text transform="translate(995.0,1067.0) rotate(-90)" font-size="13" font-weight="bold" text-anchor="end" fill="#000">U9</text>
<line x1="1000.0" y1="1057.0" x2="1000.0" y2="1065.0" stroke="#000" stroke-width="1.6"/>
<text transform="translate(1004.5,1067.0) rotate(-90)" font-size="13" font-weight="bold" text-anchor="end" fill="#000">U90</text>
<line x1="1009.6" y1="1057.0" x2="1009.6" y2="1065.0" stroke="#000" stroke-width="1.6"/>
<text transform="translate(1014.1,1067.0) rotate(-90)" font-size="13" font-weight="bold" text-anchor="end" fill="#000">U91</text>
<line x1="1019.2" y1="1057.0" x2="1019.2" y2="1065.0" stroke="#000" stroke-width="1.6"/>
<text transform="translate(1023.7,1067.0) rotate(-90)" font-size="13" font-weight="bold" text-anchor="end" fill="#000">U94</text>
<line x1="1028.8" y1="1057.0" x2="1028.8" y2="1065.0" stroke="#000" stroke-width="1.6"/>
<text transform="translate(1033.3,1067.0) rotate(-90)" font-size="13" font-weight="bold" text-anchor="end" fill="#000">U95</text>
<clipPath id="clip109"><rect x="99.1" y="600" width="1000" height="459.3"/></clipPath>
<g clip-path="url(#clip109)">
<rect x="105.5" y="1053.4" width="7.2" height="7.2" fill="#154d6e"/>
<rect x="115.1" y="1053.4" width="7.2" height="7.2" fill="#154d6e"/>
<rect x="124.7" y="1053.4" width="7.2" height="7.2" fill="#154d6e"/>
<rect x="134.2" y="1053.4" width="7.2" height="7.2" fill="#154d6e"/>
<rect x="143.8" y="1053.4" width="7.2" height="7.2" fill="#154d6e"/>
<rect x="153.4" y="1053.4" width="7.2" height="7.2" fill="#154d6e"/>
<rect x="163.0" y="1053.4" width="7.2" height="7.2" fill="#154d6e"/>
<rect x="172.6" y="1053.4" width="7.2" height="7.2" fill="#154d6e"/>
<rect x="182.1" y="1053.4" width="7.2" height="7.2" fill="#154d6e"/>
<rect x="191.7" y="1053.4" width="7.2" height="7.2" fill="#154d6e"/>
<rect x="201.3" y="1053.4" width="7.2" height="7.2" fill="#154d6e"/>
<rect x="210.9" y="1053.4" width="7.2" height="7.2" fill="#154d6e"/>
<rect x="220.5" y="1053.4" width="7.2" height="7.2" fill="#154d6e"/>
<rect x="230.0" y="1053.4" width="7.2" height="7.2" fill="#154d6e"/>
<rect x="239.6" y="1053.4" width="7.2" height="7.2" fill="#154d6e"/>
<rect x="249.2" y="1053.4" width="7.2" height="7.2" fill="#154d6e"/>
<rect x="258.8" y="1053.4" width="7.2" height="7.2" fill="#154d6e"/>
<rect x="268.4" y="1053.4" width="7.2" height="7.2" fill="#154d6e"/>
<rect x="277.9" y="1053.4" width="7.2" height="7.2" fill="#154d6e"/>
<rect x="287.5" y="1053.4" width="7.2" height="7.2" fill="#154d6e"/>
<rect x="297.1" y="1053.4" width="7.2" height="7.2" fill="#154d6e"/>
<rect x="306.7" y="1053.4" width="7.2" height="7.2" fill="#154d6e"/>
<rect x="316.3" y="1053.4" width="7.2" height="7.2" fill="#154d6e"/>
<rect x="325.8" y="1053.4" width="7.2" height="7.2" fill="#154d6e"/>
<rect x="335.4" y="1053.4" width="7.2" height="7.2" fill="#154d6e"/>
<rect x="345.0" y="1053.4" width="7.2" height="7.2" fill="#154d6e"/>
<rect x="354.6" y="1053.4" width="7.2" height="7.2" fill="#154d6e"/>
<rect x="364.2" y="1053.4" width="7.2" height="7.2" fill="#154d6e"/>
<rect x="373.7" y="1053.4" width="7.2" height="7.2" fill="#154d6e"/>
<rect x="383.3" y="1053.4" width="7.2" height="7.2" fill="#154d6e"/>
<rect x="392.9" y="1053.4" width="7.2" height="7.2" fill="#154d6e"/>
<rect x="402.5" y="1053.4" width="7.2" height="7.2" fill="#154d6e"/>
<rect x="412.1" y="1053.4" width="7.2" height="7.2" fill="#154d6e"/>
<rect x="421.6" y="1053.4" width="7.2" height="7.2" fill="#154d6e"/>
<rect x="431.2" y="1053.4" width="7.2" height="7.2" fill="#154d6e"/>
<rect x="440.8" y="1053.4" width="7.2" height="7.2" fill="#154d6e"/>
<rect x="450.4" y="1053.4" width="7.2" height="7.2" fill="#154d6e"/>
<rect x="460.0" y="1053.4" width="7.2" height="7.2" fill="#154d6e"/>
<rect x="469.5" y="1053.4" width="7.2" height="7.2" fill="#154d6e"/>
<rect x="479.1" y="1053.4" width="7.2" height="7.2" fill="#154d6e"/>
<rect x="488.7" y="1053.4" width="7.2" height="7.2" fill="#154d6e"/>
<rect x="498.3" y="1053.4" width="7.2" height="7.2" fill="#154d6e"/>
<rect x="507.9" y="1053.4" width="7.2" height="7.2" fill="#154d6e"/>
<rect x="517.4" y="1053.4" width="7.2" height="7.2" fill="#154d6e"/>
<rect x="527.0" y="1053.4" width="7.2" height="7.2" fill="#154d6e"/>
<rect x="536.6" y="1053.4" width="7.2" height="7.2" fill="#154d6e"/>
<rect x="546.2" y="1053.4" width="7.2" height="7.2" fill="#154d6e"/>
<rect x="555.8" y="1053.4" width="7.2" height="7.2" fill="#154d6e"/>
<rect x="565.3" y="1053.4" width="7.2" height="7.2" fill="#154d6e"/>
<rect x="574.9" y="1053.4" width="7.2" height="7.2" fill="#154d6e"/>
<rect x="584.5" y="1053.4" width="7.2" height="7.2" fill="#154d6e"/>
<rect x="594.1" y="1053.4" width="7.2" height="7.2" fill="#154d6e"/>
<rect x="603.7" y="1053.4" width="7.2" height="7.2" fill="#154d6e"/>
<rect x="613.2" y="1053.4" width="7.2" height="7.2" fill="#154d6e"/>
<rect x="622.8" y="1053.4" width="7.2" height="7.2" fill="#154d6e"/>
<rect x="632.4" y="1053.4" width="7.2" height="7.2" fill="#154d6e"/>
<rect x="642.0" y="1053.4" width="7.2" height="7.2" fill="#154d6e"/>
<rect x="651.6" y="1053.4" width="7.2" height="7.2" fill="#154d6e"/>
<rect x="661.1" y="1053.4" width="7.2" height="7.2" fill="#154d6e"/>
<rect x="670.7" y="1053.4" width="7.2" height="7.2" fill="#154d6e"/>
<rect x="680.3" y="1053.4" width="7.2" height="7.2" fill="#154d6e"/>
<rect x="689.9" y="1053.4" width="7.2" height="7.2" fill="#154d6e"/>
<rect x="699.5" y="1053.4" width="7.2" height="7.2" fill="#154d6e"/>
<rect x="709.0" y="1053.4" width="7.2" height="7.2" fill="#154d6e"/>
<rect x="718.6" y="1053.4" width="7.2" height="7.2" fill="#154d6e"/>
<rect x="728.2" y="1053.4" width="7.2" height="7.2" fill="#154d6e"/>
<rect x="737.8" y="1053.4" width="7.2" height="7.2" fill="#154d6e"/>
<rect x="747.4" y="1053.4" width="7.2" height="7.2" fill="#154d6e"/>
<rect x="756.9" y="1053.4" width="7.2" height="7.2" fill="#154d6e"/>
<rect x="766.5" y="1053.4" width="7.2" height="7.2" fill="#154d6e"/>
<rect x="776.1" y="1053.4" width="7.2" height="7.2" fill="#154d6e"/>
<rect x="785.7" y="1053.4" width="7.2" height="7.2" fill="#154d6e"/>
<rect x="795.3" y="1053.4" width="7.2" height="7.2" fill="#154d6e"/>
<rect x="804.8" y="1053.4" width="7.2" height="7.2" fill="#154d6e"/>
<rect x="814.4" y="1053.4" width="7.2" height="7.2" fill="#154d6e"/>
<rect x="824.0" y="1053.4" width="7.2" height="7.2" fill="#154d6e"/>
<rect x="833.6" y="1053.4" width="7.2" height="7.2" fill="#154d6e"/>
<rect x="843.2" y="1053.4" width="7.2" height="7.2" fill="#154d6e"/>
<rect x="852.7" y="1053.4" width="7.2" height="7.2" fill="#154d6e"/>
<rect x="862.3" y="1053.4" width="7.2" height="7.2" fill="#154d6e"/>
<rect x="871.9" y="1053.4" width="7.2" height="7.2" fill="#154d6e"/>
<rect x="881.5" y="1053.4" width="7.2" height="7.2" fill="#154d6e"/>
<rect x="891.1" y="1053.4" width="7.2" height="7.2" fill="#154d6e"/>
<rect x="900.6" y="1053.4" width="7.2" height="7.2" fill="#154d6e"/>
<rect x="910.2" y="1053.4" width="7.2" height="7.2" fill="#154d6e"/>
<rect x="919.8" y="1053.4" width="7.2" height="7.2" fill="#154d6e"/>
<rect x="929.4" y="1053.4" width="7.2" height="7.2" fill="#154d6e"/>
<rect x="939.0" y="1053.4" width="7.2" height="7.2" fill="#154d6e"/>
<rect x="948.5" y="1053.4" width="7.2" height="7.2" fill="#154d6e"/>
<rect x="958.1" y="1053.4" width="7.2" height="7.2" fill="#154d6e"/>
<rect x="967.7" y="1053.4" width="7.2" height="7.2" fill="#154d6e"/>
<rect x="977.3" y="1053.4" width="7.2" height="7.2" fill="#154d6e"/>
<rect x="986.9" y="1053.4" width="7.2" height="7.2" fill="#154d6e"/>
<rect x="996.4" y="1053.4" width="7.2" height="7.2" fill="#154d6e"/>
<rect x="1006.0" y="1053.4" width="7.2" height="7.2" fill="#154d6e"/>
<rect x="1015.6" y="1053.4" width="7.2" height="7.2" fill="#154d6e"/>
<rect x="1025.2" y="1053.4" width="7.2" height="7.2" fill="#154d6e"/>
</g>
<circle cx="109.1" cy="1053.6" r="3.6" fill="#9eadb2"/>
<circle cx="118.7" cy="1053.6" r="3.6" fill="#9eadb2"/>
<circle cx="128.3" cy="1053.6" r="3.6" fill="#9eadb2"/>
<circle cx="137.8" cy="1053.6" r="3.6" fill="#9eadb2"/>
<circle cx="147.4" cy="1053.6" r="3.6" fill="#9eadb2"/>
<circle cx="157.0" cy="1053.6" r="3.6" fill="#9eadb2"/>
<circle cx="166.6" cy="1053.6" r="3.6" fill="#9eadb2"/>
<circle cx="176.2" cy="1053.6" r="3.6" fill="#9eadb2"/>
<circle cx="185.7" cy="1053.6" r="3.6" fill="#9eadb2"/>
<circle cx="195.3" cy="1053.6" r="3.6" fill="#9eadb2"/>
<circle cx="204.9" cy="1053.6" r="3.6" fill="#9eadb2"/>
<circle cx="214.5" cy="1053.6" r="3.6" fill="#9eadb2"/>
<circle cx="224.1" cy="1053.6" r="3.6" fill="#9eadb2"/>
<circle cx="233.6" cy="1053.6" r="3.6" fill="#9eadb2"/>
<circle cx="243.2" cy="1053.6" r="3.6" fill="#9eadb2"/>
<circle cx="252.8" cy="1053.6" r="3.6" fill="#9eadb2"/>
<circle cx="262.4" cy="1053.6" r="3.6" fill="#9eadb2"/>
<circle cx="272.0" cy="1053.6" r="3.6" fill="#9eadb2"/>
<circle cx="281.5" cy="1053.6" r="3.6" fill="#9eadb2"/>
<circle cx="291.1" cy="1053.6" r="3.6" fill="#9eadb2"/>
<circle cx="300.7" cy="1053.6" r="3.6" fill="#9eadb2"/>
<circle cx="310.3" cy="1053.6" r="3.6" fill="#9eadb2"/>
<circle cx="319.9" cy="1053.6" r="3.6" fill="#9eadb2"/>
<circle cx="329.4" cy="1053.6" r="3.6" fill="#9eadb2"/>
<circle cx="339.0" cy="1053.6" r="3.6" fill="#9eadb2"/>
<circle cx="348.6" cy="1053.6" r="3.6" fill="#9eadb2"/>
<circle cx="358.2" cy="1053.6" r="3.6" fill="#9eadb2"/>
<circle cx="367.8" cy="1053.6" r="3.6" fill="#9eadb2"/>
<circle cx="377.3" cy="1053.6" r="3.6" fill="#9eadb2"/>
<circle cx="386.9" cy="1053.6" r="3.6" fill="#9eadb2"/>
<circle cx="396.5" cy="1053.6" r="3.6" fill="#9eadb2"/>
<circle cx="406.1" cy="1053.6" r="3.6" fill="#9eadb2"/>
<circle cx="415.7" cy="1053.6" r="3.6" fill="#9eadb2"/>
<circle cx="425.2" cy="1053.6" r="3.6" fill="#9eadb2"/>
<circle cx="434.8" cy="1053.6" r="3.6" fill="#9eadb2"/>
<circle cx="444.4" cy="1053.6" r="3.6" fill="#9eadb2"/>
<circle cx="454.0" cy="1053.6" r="3.6" fill="#9eadb2"/>
<circle cx="463.6" cy="1053.6" r="3.6" fill="#9eadb2"/>
<circle cx="473.1" cy="1053.6" r="3.6" fill="#9eadb2"/>
<circle cx="482.7" cy="1053.6" r="3.6" fill="#9eadb2"/>
<circle cx="492.3" cy="1053.6" r="3.6" fill="#9eadb2"/>
<circle cx="501.9" cy="1053.6" r="3.6" fill="#9eadb2"/>
<circle cx="511.5" cy="1053.6" r="3.6" fill="#9eadb2"/>
<circle cx="521.0" cy="1053.6" r="3.6" fill="#9eadb2"/>
<circle cx="530.6" cy="1053.6" r="3.6" fill="#9eadb2"/>
<circle cx="540.2" cy="1053.6" r="3.6" fill="#9eadb2"/>
<circle cx="549.8" cy="1053.6" r="3.6" fill="#9eadb2"/>
<circle cx="559.4" cy="1053.6" r="3.6" fill="#9eadb2"/>
<circle cx="568.9" cy="1053.6" r="3.6" fill="#9eadb2"/>
<circle cx="578.5" cy="1053.6" r="3.6" fill="#9eadb2"/>
<circle cx="588.1" cy="1053.6" r="3.6" fill="#9eadb2"/>
<circle cx="597.7" cy="1053.6" r="3.6" fill="#9eadb2"/>
<circle cx="607.3" cy="1053.6" r="3.6" fill="#9eadb2"/>
<circle cx="616.8" cy="1053.6" r="3.6" fill="#9eadb2"/>
<circle cx="626.4" cy="1053.6" r="3.6" fill="#9eadb2"/>
<circle cx="636.0" cy="1053.6" r="3.6" fill="#9eadb2"/>
<circle cx="645.6" cy="1053.6" r="3.6" fill="#9eadb2"/>
<circle cx="655.2" cy="1053.6" r="3.6" fill="#9eadb2"/>
<circle cx="664.7" cy="1053.6" r="3.6" fill="#9eadb2"/>
<circle cx="674.3" cy="1053.6" r="3.6" fill="#9eadb2"/>
<circle cx="683.9" cy="1053.6" r="3.6" fill="#9eadb2"/>
<circle cx="693.5" cy="1053.6" r="3.6" fill="#9eadb2"/>
<circle cx="703.1" cy="1053.6" r="3.6" fill="#9eadb2"/>
<circle cx="712.6" cy="1053.6" r="3.6" fill="#9eadb2"/>
<circle cx="722.2" cy="1053.6" r="3.6" fill="#9eadb2"/>
<circle cx="731.8" cy="1053.6" r="3.6" fill="#9eadb2"/>
<circle cx="741.4" cy="1053.6" r="3.6" fill="#9eadb2"/>
<circle cx="751.0" cy="1053.6" r="3.6" fill="#9eadb2"/>
<circle cx="760.5" cy="1053.6" r="3.6" fill="#9eadb2"/>
<circle cx="770.1" cy="1053.6" r="3.6" fill="#9eadb2"/>
<circle cx="779.7" cy="1053.6" r="3.6" fill="#9eadb2"/>
<circle cx="789.3" cy="1053.6" r="3.6" fill="#9eadb2"/>
<circle cx="798.9" cy="1053.6" r="3.6" fill="#9eadb2"/>
<circle cx="808.4" cy="1053.6" r="3.6" fill="#9eadb2"/>
<circle cx="818.0" cy="1053.6" r="3.6" fill="#9eadb2"/>
<circle cx="827.6" cy="1053.6" r="3.6" fill="#9eadb2"/>
<circle cx="837.2" cy="1053.6" r="3.6" fill="#9eadb2"/>
<circle cx="846.8" cy="1053.6" r="3.6" fill="#9eadb2"/>
<circle cx="856.3" cy="1052.1" r="3.6" fill="#9eadb2"/>
<circle cx="865.9" cy="1053.6" r="3.6" fill="#9eadb2"/>
<circle cx="875.5" cy="1053.6" r="3.6" fill="#9eadb2"/>
<circle cx="885.1" cy="1053.6" r="3.6" fill="#9eadb2"/>
<circle cx="894.7" cy="1053.6" r="3.6" fill="#9eadb2"/>
<circle cx="904.2" cy="1053.6" r="3.6" fill="#9eadb2"/>
<circle cx="913.8" cy="1053.6" r="3.6" fill="#9eadb2"/>
<circle cx="923.4" cy="1053.6" r="3.6" fill="#9eadb2"/>
<circle cx="933.0" cy="1053.6" r="3.6" fill="#9eadb2"/>
<circle cx="942.6" cy="1053.6" r="3.6" fill="#9eadb2"/>
<circle cx="952.1" cy="1053.6" r="3.6" fill="#9eadb2"/>
<circle cx="961.7" cy="1053.6" r="3.6" fill="#9eadb2"/>
<circle cx="971.3" cy="1053.6" r="3.6" fill="#9eadb2"/>
<circle cx="980.9" cy="1053.6" r="3.6" fill="#9eadb2"/>
<circle cx="990.5" cy="1053.6" r="3.6" fill="#9eadb2"/>
<circle cx="1000.0" cy="1053.6" r="3.6" fill="#9eadb2"/>
<circle cx="1009.6" cy="1053.6" r="3.6" fill="#9eadb2"/>
<circle cx="1019.2" cy="1053.6" r="3.6" fill="#9eadb2"/>
<circle cx="1028.8" cy="1053.6" r="3.6" fill="#9eadb2"/>
<text x="492.5" y="667.8" font-size="25.7" font-weight="bold" fill="#000">ciHHV-6 Donor</text>
<circle cx="937.7" cy="723" r="3.4" fill="#a2afb6"/>
<rect x="934.0" y="744.5" width="7.4" height="7.4" fill="#154d6e"/>
<text x="958.2" y="729.3" font-size="17.6" fill="#000">Day 1</text>
<text x="958.2" y="754.3" font-size="17.6" fill="#000">Day 19</text>
<text x="456" y="1143.5" font-size="30.3" fill="#000">all HHV-6B genes</text>
<line x1="1133.7" y1="687.7" x2="1133.7" y2="1054.2" stroke="#000" stroke-width="2"/>
<line x1="1132.7" y1="1053.2" x2="2063.5" y2="1053.2" stroke="#000" stroke-width="2"/>
<line x1="1126.2" y1="1053.2" x2="1133.7" y2="1053.2" stroke="#000" stroke-width="2"/>
<text x="1124.2" y="1058.6000000000001" font-size="15" font-weight="bold" text-anchor="end" fill="#000">0</text>
<line x1="1126.2" y1="931.5" x2="1133.7" y2="931.5" stroke="#000" stroke-width="2"/>
<text x="1124.2" y="936.85" font-size="15" font-weight="bold" text-anchor="end" fill="#000">100</text>
<line x1="1126.2" y1="809.7" x2="1133.7" y2="809.7" stroke="#000" stroke-width="2"/>
<text x="1124.2" y="815.1" font-size="15" font-weight="bold" text-anchor="end" fill="#000">200</text>
<line x1="1126.2" y1="688.0" x2="1133.7" y2="688.0" stroke="#000" stroke-width="2"/>
<text x="1124.2" y="693.35" font-size="15" font-weight="bold" text-anchor="end" fill="#000">300</text>
<line x1="1215.4" y1="687.7" x2="1215.4" y2="1053.2" stroke="#000" stroke-width="2.2" stroke-linecap="round" stroke-dasharray="0.01 5.5"/>
<line x1="1282.5" y1="687.7" x2="1282.5" y2="1053.2" stroke="#000" stroke-width="2.2" stroke-linecap="round" stroke-dasharray="0.01 5.5"/>
<line x1="1828.6" y1="687.7" x2="1828.6" y2="1053.2" stroke="#000" stroke-width="2.2" stroke-linecap="round" stroke-dasharray="0.01 5.5"/>
<line x1="1138.8" y1="1053.2" x2="1138.8" y2="1061.2" stroke="#000" stroke-width="1.6"/>
<text transform="translate(1143.3,1063.2) rotate(-90)" font-size="13" font-weight="bold" text-anchor="end" fill="#000">B7</text>
<line x1="1148.4" y1="1053.2" x2="1148.4" y2="1061.2" stroke="#000" stroke-width="1.6"/>
<text transform="translate(1152.9,1063.2) rotate(-90)" font-size="13" font-weight="bold" text-anchor="end" fill="#000">DR3-L</text>
<line x1="1158.0" y1="1053.2" x2="1158.0" y2="1061.2" stroke="#000" stroke-width="1.6"/>
<text transform="translate(1162.5,1063.2) rotate(-90)" font-size="13" font-weight="bold" text-anchor="end" fill="#000">U45</text>
<line x1="1167.5" y1="1053.2" x2="1167.5" y2="1061.2" stroke="#000" stroke-width="1.6"/>
<text transform="translate(1172.0,1063.2) rotate(-90)" font-size="13" font-weight="bold" text-anchor="end" fill="#000">U94</text>
<line x1="1177.1" y1="1053.2" x2="1177.1" y2="1061.2" stroke="#000" stroke-width="1.6"/>
<text transform="translate(1181.6,1063.2) rotate(-90)" font-size="13" font-weight="bold" text-anchor="end" fill="#000">U37</text>
<line x1="1186.7" y1="1053.2" x2="1186.7" y2="1061.2" stroke="#000" stroke-width="1.6"/>
<text transform="translate(1191.2,1063.2) rotate(-90)" font-size="13" font-weight="bold" text-anchor="end" fill="#000">U62</text>
<line x1="1196.3" y1="1053.2" x2="1196.3" y2="1061.2" stroke="#000" stroke-width="1.6"/>
<text transform="translate(1200.8,1063.2) rotate(-90)" font-size="13" font-weight="bold" text-anchor="end" fill="#000">U86</text>
<line x1="1205.9" y1="1053.2" x2="1205.9" y2="1061.2" stroke="#000" stroke-width="1.6"/>
<text transform="translate(1210.4,1063.2) rotate(-90)" font-size="13" font-weight="bold" text-anchor="end" fill="#000">U95</text>
<line x1="1215.4" y1="1053.2" x2="1215.4" y2="1061.2" stroke="#000" stroke-width="1.6"/>
<text transform="translate(1219.9,1063.2) rotate(-90)" font-size="13" font-weight="bold" text-anchor="end" fill="#000">U90</text>
<line x1="1225.0" y1="1053.2" x2="1225.0" y2="1061.2" stroke="#000" stroke-width="1.6"/>
<text transform="translate(1229.5,1063.2) rotate(-90)" font-size="13" font-weight="bold" text-anchor="end" fill="#000">U2</text>
<line x1="1234.6" y1="1053.2" x2="1234.6" y2="1061.2" stroke="#000" stroke-width="1.6"/>
<text transform="translate(1239.1,1063.2) rotate(-90)" font-size="13" font-weight="bold" text-anchor="end" fill="#000">U4</text>
<line x1="1244.2" y1="1053.2" x2="1244.2" y2="1061.2" stroke="#000" stroke-width="1.6"/>
<text transform="translate(1248.7,1063.2) rotate(-90)" font-size="13" font-weight="bold" text-anchor="end" fill="#000">U40</text>
<line x1="1253.8" y1="1053.2" x2="1253.8" y2="1061.2" stroke="#000" stroke-width="1.6"/>
<text transform="translate(1258.3,1063.2) rotate(-90)" font-size="13" font-weight="bold" text-anchor="end" fill="#000">U64</text>
<line x1="1263.3" y1="1053.2" x2="1263.3" y2="1061.2" stroke="#000" stroke-width="1.6"/>
<text transform="translate(1267.8,1063.2) rotate(-90)" font-size="13" font-weight="bold" text-anchor="end" fill="#000">U59</text>
<line x1="1272.9" y1="1053.2" x2="1272.9" y2="1061.2" stroke="#000" stroke-width="1.6"/>
<text transform="translate(1277.4,1063.2) rotate(-90)" font-size="13" font-weight="bold" text-anchor="end" fill="#000">U39</text>
<line x1="1282.5" y1="1053.2" x2="1282.5" y2="1061.2" stroke="#000" stroke-width="1.6"/>
<text transform="translate(1287.0,1063.2) rotate(-90)" font-size="13" font-weight="bold" text-anchor="end" fill="#000">U38</text>
<line x1="1292.1" y1="1053.2" x2="1292.1" y2="1061.2" stroke="#000" stroke-width="1.6"/>
<text transform="translate(1296.6,1063.2) rotate(-90)" font-size="13" font-weight="bold" text-anchor="end" fill="#000">B6</text>
<line x1="1301.7" y1="1053.2" x2="1301.7" y2="1061.2" stroke="#000" stroke-width="1.6"/>
<text transform="translate(1306.2,1063.2) rotate(-90)" font-size="13" font-weight="bold" text-anchor="end" fill="#000">B8</text>
<line x1="1311.2" y1="1053.2" x2="1311.2" y2="1061.2" stroke="#000" stroke-width="1.6"/>
<text transform="translate(1315.7,1063.2) rotate(-90)" font-size="13" font-weight="bold" text-anchor="end" fill="#000">U12</text>
<line x1="1320.8" y1="1053.2" x2="1320.8" y2="1061.2" stroke="#000" stroke-width="1.6"/>
<text transform="translate(1325.3,1063.2) rotate(-90)" font-size="13" font-weight="bold" text-anchor="end" fill="#000">U13</text>
<line x1="1330.4" y1="1053.2" x2="1330.4" y2="1061.2" stroke="#000" stroke-width="1.6"/>
<text transform="translate(1334.9,1063.2) rotate(-90)" font-size="13" font-weight="bold" text-anchor="end" fill="#000">U15</text>
<line x1="1340.0" y1="1053.2" x2="1340.0" y2="1061.2" stroke="#000" stroke-width="1.6"/>
<text transform="translate(1344.5,1063.2) rotate(-90)" font-size="13" font-weight="bold" text-anchor="end" fill="#000">U23</text>
<line x1="1349.6" y1="1053.2" x2="1349.6" y2="1061.2" stroke="#000" stroke-width="1.6"/>
<text transform="translate(1354.1,1063.2) rotate(-90)" font-size="13" font-weight="bold" text-anchor="end" fill="#000">U28</text>
<line x1="1359.1" y1="1053.2" x2="1359.1" y2="1061.2" stroke="#000" stroke-width="1.6"/>
<text transform="translate(1363.6,1063.2) rotate(-90)" font-size="13" font-weight="bold" text-anchor="end" fill="#000">U3</text>
<line x1="1368.7" y1="1053.2" x2="1368.7" y2="1061.2" stroke="#000" stroke-width="1.6"/>
<text transform="translate(1373.2,1063.2) rotate(-90)" font-size="13" font-weight="bold" text-anchor="end" fill="#000">U30</text>
<line x1="1378.3" y1="1053.2" x2="1378.3" y2="1061.2" stroke="#000" stroke-width="1.6"/>
<text transform="translate(1382.8,1063.2) rotate(-90)" font-size="13" font-weight="bold" text-anchor="end" fill="#000">U31</text>
<line x1="1387.9" y1="1053.2" x2="1387.9" y2="1061.2" stroke="#000" stroke-width="1.6"/>
<text transform="translate(1392.4,1063.2) rotate(-90)" font-size="13" font-weight="bold" text-anchor="end" fill="#000">U33</text>
<line x1="1397.5" y1="1053.2" x2="1397.5" y2="1061.2" stroke="#000" stroke-width="1.6"/>
<text transform="translate(1402.0,1063.2) rotate(-90)" font-size="13" font-weight="bold" text-anchor="end" fill="#000">U35</text>
<line x1="1407.0" y1="1053.2" x2="1407.0" y2="1061.2" stroke="#000" stroke-width="1.6"/>
<text transform="translate(1411.5,1063.2) rotate(-90)" font-size="13" font-weight="bold" text-anchor="end" fill="#000">U36</text>
<line x1="1416.6" y1="1053.2" x2="1416.6" y2="1061.2" stroke="#000" stroke-width="1.6"/>
<text transform="translate(1421.1,1063.2) rotate(-90)" font-size="13" font-weight="bold" text-anchor="end" fill="#000">U48</text>
<line x1="1426.2" y1="1053.2" x2="1426.2" y2="1061.2" stroke="#000" stroke-width="1.6"/>
<text transform="translate(1430.7,1063.2) rotate(-90)" font-size="13" font-weight="bold" text-anchor="end" fill="#000">U52</text>
<line x1="1435.8" y1="1053.2" x2="1435.8" y2="1061.2" stroke="#000" stroke-width="1.6"/>
<text transform="translate(1440.3,1063.2) rotate(-90)" font-size="13" font-weight="bold" text-anchor="end" fill="#000">U53</text>
<line x1="1445.4" y1="1053.2" x2="1445.4" y2="1061.2" stroke="#000" stroke-width="1.6"/>
<text transform="translate(1449.9,1063.2) rotate(-90)" font-size="13" font-weight="bold" text-anchor="end" fill="#000">U55</text>
<line x1="1454.9" y1="1053.2" x2="1454.9" y2="1061.2" stroke="#000" stroke-width="1.6"/>
<text transform="translate(1459.4,1063.2) rotate(-90)" font-size="13" font-weight="bold" text-anchor="end" fill="#000">U76</text>
<line x1="1464.5" y1="1053.2" x2="1464.5" y2="1061.2" stroke="#000" stroke-width="1.6"/>
<text transform="translate(1469.0,1063.2) rotate(-90)" font-size="13" font-weight="bold" text-anchor="end" fill="#000">U57</text>
<line x1="1474.1" y1="1053.2" x2="1474.1" y2="1061.2" stroke="#000" stroke-width="1.6"/>
<text transform="translate(1478.6,1063.2) rotate(-90)" font-size="13" font-weight="bold" text-anchor="end" fill="#000">U58</text>
<line x1="1483.7" y1="1053.2" x2="1483.7" y2="1061.2" stroke="#000" stroke-width="1.6"/>
<text transform="translate(1488.2,1063.2) rotate(-90)" font-size="13" font-weight="bold" text-anchor="end" fill="#000">U66</text>
<line x1="1493.3" y1="1053.2" x2="1493.3" y2="1061.2" stroke="#000" stroke-width="1.6"/>
<text transform="translate(1497.8,1063.2) rotate(-90)" font-size="13" font-weight="bold" text-anchor="end" fill="#000">U77</text>
<line x1="1502.8" y1="1053.2" x2="1502.8" y2="1061.2" stroke="#000" stroke-width="1.6"/>
<text transform="translate(1507.3,1063.2) rotate(-90)" font-size="13" font-weight="bold" text-anchor="end" fill="#000">U9</text>
<line x1="1512.4" y1="1053.2" x2="1512.4" y2="1061.2" stroke="#000" stroke-width="1.6"/>
<text transform="translate(1516.9,1063.2) rotate(-90)" font-size="13" font-weight="bold" text-anchor="end" fill="#000">U25</text>
<line x1="1522.0" y1="1053.2" x2="1522.0" y2="1061.2" stroke="#000" stroke-width="1.6"/>
<text transform="translate(1526.5,1063.2) rotate(-90)" font-size="13" font-weight="bold" text-anchor="end" fill="#000">U22</text>
<line x1="1531.6" y1="1053.2" x2="1531.6" y2="1061.2" stroke="#000" stroke-width="1.6"/>
<text transform="translate(1536.1,1063.2) rotate(-90)" font-size="13" font-weight="bold" text-anchor="end" fill="#000">U74</text>
<line x1="1541.2" y1="1053.2" x2="1541.2" y2="1061.2" stroke="#000" stroke-width="1.6"/>
<text transform="translate(1545.7,1063.2) rotate(-90)" font-size="13" font-weight="bold" text-anchor="end" fill="#000">U47</text>
<line x1="1550.7" y1="1053.2" x2="1550.7" y2="1061.2" stroke="#000" stroke-width="1.6"/>
<text transform="translate(1555.2,1063.2) rotate(-90)" font-size="13" font-weight="bold" text-anchor="end" fill="#000">U43</text>
<line x1="1560.3" y1="1053.2" x2="1560.3" y2="1061.2" stroke="#000" stroke-width="1.6"/>
<text transform="translate(1564.8,1063.2) rotate(-90)" font-size="13" font-weight="bold" text-anchor="end" fill="#000">U44</text>
<line x1="1569.9" y1="1053.2" x2="1569.9" y2="1061.2" stroke="#000" stroke-width="1.6"/>
<text transform="translate(1574.4,1063.2) rotate(-90)" font-size="13" font-weight="bold" text-anchor="end" fill="#000">U34</text>
<line x1="1579.5" y1="1053.2" x2="1579.5" y2="1061.2" stroke="#000" stroke-width="1.6"/>
<text transform="translate(1584.0,1063.2) rotate(-90)" font-size="13" font-weight="bold" text-anchor="end" fill="#000">U29</text>
<line x1="1589.1" y1="1053.2" x2="1589.1" y2="1061.2" stroke="#000" stroke-width="1.6"/>
<text transform="translate(1593.6,1063.2) rotate(-90)" font-size="13" font-weight="bold" text-anchor="end" fill="#000">U17</text>
<line x1="1598.6" y1="1053.2" x2="1598.6" y2="1061.2" stroke="#000" stroke-width="1.6"/>
<text transform="translate(1603.1,1063.2) rotate(-90)" font-size="13" font-weight="bold" text-anchor="end" fill="#000">U10</text>
<line x1="1608.2" y1="1053.2" x2="1608.2" y2="1061.2" stroke="#000" stroke-width="1.6"/>
<text transform="translate(1612.7,1063.2) rotate(-90)" font-size="13" font-weight="bold" text-anchor="end" fill="#000">U32</text>
<line x1="1617.8" y1="1053.2" x2="1617.8" y2="1061.2" stroke="#000" stroke-width="1.6"/>
<text transform="translate(1622.3,1063.2) rotate(-90)" font-size="13" font-weight="bold" text-anchor="end" fill="#000">U67</text>
<line x1="1627.4" y1="1053.2" x2="1627.4" y2="1061.2" stroke="#000" stroke-width="1.6"/>
<text transform="translate(1631.9,1063.2) rotate(-90)" font-size="13" font-weight="bold" text-anchor="end" fill="#000">U20</text>
<line x1="1637.0" y1="1053.2" x2="1637.0" y2="1061.2" stroke="#000" stroke-width="1.6"/>
<text transform="translate(1641.5,1063.2) rotate(-90)" font-size="13" font-weight="bold" text-anchor="end" fill="#000">U72</text>
<line x1="1646.5" y1="1053.2" x2="1646.5" y2="1061.2" stroke="#000" stroke-width="1.6"/>
<text transform="translate(1651.0,1063.2) rotate(-90)" font-size="13" font-weight="bold" text-anchor="end" fill="#000">U42</text>
<line x1="1656.1" y1="1053.2" x2="1656.1" y2="1061.2" stroke="#000" stroke-width="1.6"/>
<text transform="translate(1660.6,1063.2) rotate(-90)" font-size="13" font-weight="bold" text-anchor="end" fill="#000">U73</text>
<line x1="1665.7" y1="1053.2" x2="1665.7" y2="1061.2" stroke="#000" stroke-width="1.6"/>
<text transform="translate(1670.2,1063.2) rotate(-90)" font-size="13" font-weight="bold" text-anchor="end" fill="#000">U63</text>
<line x1="1675.3" y1="1053.2" x2="1675.3" y2="1061.2" stroke="#000" stroke-width="1.6"/>
<text transform="translate(1679.8,1063.2) rotate(-90)" font-size="13" font-weight="bold" text-anchor="end" fill="#000">U69</text>
<line x1="1684.9" y1="1053.2" x2="1684.9" y2="1061.2" stroke="#000" stroke-width="1.6"/>
<text transform="translate(1689.4,1063.2) rotate(-90)" font-size="13" font-weight="bold" text-anchor="end" fill="#000">U7</text>
<line x1="1694.4" y1="1053.2" x2="1694.4" y2="1061.2" stroke="#000" stroke-width="1.6"/>
<text transform="translate(1698.9,1063.2) rotate(-90)" font-size="13" font-weight="bold" text-anchor="end" fill="#000">U49</text>
<line x1="1704.0" y1="1053.2" x2="1704.0" y2="1061.2" stroke="#000" stroke-width="1.6"/>
<text transform="translate(1708.5,1063.2) rotate(-90)" font-size="13" font-weight="bold" text-anchor="end" fill="#000">U8</text>
<line x1="1713.6" y1="1053.2" x2="1713.6" y2="1061.2" stroke="#000" stroke-width="1.6"/>
<text transform="translate(1718.1,1063.2) rotate(-90)" font-size="13" font-weight="bold" text-anchor="end" fill="#000">U68</text>
<line x1="1723.2" y1="1053.2" x2="1723.2" y2="1061.2" stroke="#000" stroke-width="1.6"/>
<text transform="translate(1727.7,1063.2) rotate(-90)" font-size="13" font-weight="bold" text-anchor="end" fill="#000">U19</text>
<line x1="1732.8" y1="1053.2" x2="1732.8" y2="1061.2" stroke="#000" stroke-width="1.6"/>
<text transform="translate(1737.3,1063.2) rotate(-90)" font-size="13" font-weight="bold" text-anchor="end" fill="#000">U85</text>
<line x1="1742.3" y1="1053.2" x2="1742.3" y2="1061.2" stroke="#000" stroke-width="1.6"/>
<text transform="translate(1746.8,1063.2) rotate(-90)" font-size="13" font-weight="bold" text-anchor="end" fill="#000">U14</text>
<line x1="1751.9" y1="1053.2" x2="1751.9" y2="1061.2" stroke="#000" stroke-width="1.6"/>
<text transform="translate(1756.4,1063.2) rotate(-90)" font-size="13" font-weight="bold" text-anchor="end" fill="#000">U26</text>
<line x1="1761.5" y1="1053.2" x2="1761.5" y2="1061.2" stroke="#000" stroke-width="1.6"/>
<text transform="translate(1766.0,1063.2) rotate(-90)" font-size="13" font-weight="bold" text-anchor="end" fill="#000">U81</text>
<line x1="1771.1" y1="1053.2" x2="1771.1" y2="1061.2" stroke="#000" stroke-width="1.6"/>
<text transform="translate(1775.6,1063.2) rotate(-90)" font-size="13" font-weight="bold" text-anchor="end" fill="#000">U18</text>
<line x1="1780.7" y1="1053.2" x2="1780.7" y2="1061.2" stroke="#000" stroke-width="1.6"/>
<text transform="translate(1785.2,1063.2) rotate(-90)" font-size="13" font-weight="bold" text-anchor="end" fill="#000">U54</text>
<line x1="1790.2" y1="1053.2" x2="1790.2" y2="1061.2" stroke="#000" stroke-width="1.6"/>
<text transform="translate(1794.7,1063.2) rotate(-90)" font-size="13" font-weight="bold" text-anchor="end" fill="#000">U41</text>
<line x1="1799.8" y1="1053.2" x2="1799.8" y2="1061.2" stroke="#000" stroke-width="1.6"/>
<text transform="translate(1804.3,1063.2) rotate(-90)" font-size="13" font-weight="bold" text-anchor="end" fill="#000">U27</text>
<line x1="1809.4" y1="1053.2" x2="1809.4" y2="1061.2" stroke="#000" stroke-width="1.6"/>
<text transform="translate(1813.9,1063.2) rotate(-90)" font-size="13" font-weight="bold" text-anchor="end" fill="#000">U51</text>
<line x1="1819.0" y1="1053.2" x2="1819.0" y2="1061.2" stroke="#000" stroke-width="1.6"/>
<text transform="translate(1823.5,1063.2) rotate(-90)" font-size="13" font-weight="bold" text-anchor="end" fill="#000">U79-1</text>
<line x1="1828.6" y1="1053.2" x2="1828.6" y2="1061.2" stroke="#000" stroke-width="1.6"/>
<text transform="translate(1833.1,1063.2) rotate(-90)" font-size="13" font-weight="bold" text-anchor="end" fill="#000">U79-2</text>
<line x1="1838.1" y1="1053.2" x2="1838.1" y2="1061.2" stroke="#000" stroke-width="1.6"/>
<text transform="translate(1842.6,1063.2) rotate(-90)" font-size="13" font-weight="bold" text-anchor="end" fill="#000">B1-L</text>
<line x1="1847.7" y1="1053.2" x2="1847.7" y2="1061.2" stroke="#000" stroke-width="1.6"/>
<text transform="translate(1852.2,1063.2) rotate(-90)" font-size="13" font-weight="bold" text-anchor="end" fill="#000">B3-R</text>
<line x1="1857.3" y1="1053.2" x2="1857.3" y2="1061.2" stroke="#000" stroke-width="1.6"/>
<text transform="translate(1861.8,1063.2) rotate(-90)" font-size="13" font-weight="bold" text-anchor="end" fill="#000">B4</text>
<line x1="1866.9" y1="1053.2" x2="1866.9" y2="1061.2" stroke="#000" stroke-width="1.6"/>
<text transform="translate(1871.4,1063.2) rotate(-90)" font-size="13" font-weight="bold" text-anchor="end" fill="#000">B5</text>
<line x1="1876.5" y1="1053.2" x2="1876.5" y2="1061.2" stroke="#000" stroke-width="1.6"/>
<text transform="translate(1881.0,1063.2) rotate(-90)" font-size="13" font-weight="bold" text-anchor="end" fill="#000">B9</text>
<line x1="1886.0" y1="1053.2" x2="1886.0" y2="1061.2" stroke="#000" stroke-width="1.6"/>
<text transform="translate(1890.5,1063.2) rotate(-90)" font-size="13" font-weight="bold" text-anchor="end" fill="#000">DR1-L</text>
<line x1="1895.6" y1="1053.2" x2="1895.6" y2="1061.2" stroke="#000" stroke-width="1.6"/>
<text transform="translate(1900.1,1063.2) rotate(-90)" font-size="13" font-weight="bold" text-anchor="end" fill="#000">U6</text>
<line x1="1905.2" y1="1053.2" x2="1905.2" y2="1061.2" stroke="#000" stroke-width="1.6"/>
<text transform="translate(1909.7,1063.2) rotate(-90)" font-size="13" font-weight="bold" text-anchor="end" fill="#000">U83</text>
<line x1="1914.8" y1="1053.2" x2="1914.8" y2="1061.2" stroke="#000" stroke-width="1.6"/>
<text transform="translate(1919.3,1063.2) rotate(-90)" font-size="13" font-weight="bold" text-anchor="end" fill="#000">U11</text>
<line x1="1924.4" y1="1053.2" x2="1924.4" y2="1061.2" stroke="#000" stroke-width="1.6"/>
<text transform="translate(1928.9,1063.2) rotate(-90)" font-size="13" font-weight="bold" text-anchor="end" fill="#000">U50</text>
<line x1="1933.9" y1="1053.2" x2="1933.9" y2="1061.2" stroke="#000" stroke-width="1.6"/>
<text transform="translate(1938.4,1063.2) rotate(-90)" font-size="13" font-weight="bold" text-anchor="end" fill="#000">U75</text>
<line x1="1943.5" y1="1053.2" x2="1943.5" y2="1061.2" stroke="#000" stroke-width="1.6"/>
<text transform="translate(1948.0,1063.2) rotate(-90)" font-size="13" font-weight="bold" text-anchor="end" fill="#000">U82</text>
<line x1="1953.1" y1="1053.2" x2="1953.1" y2="1061.2" stroke="#000" stroke-width="1.6"/>
<text transform="translate(1957.6,1063.2) rotate(-90)" font-size="13" font-weight="bold" text-anchor="end" fill="#000">U65</text>
<line x1="1962.7" y1="1053.2" x2="1962.7" y2="1061.2" stroke="#000" stroke-width="1.6"/>
<text transform="translate(1967.2,1063.2) rotate(-90)" font-size="13" font-weight="bold" text-anchor="end" fill="#000">U100-gQ2</text>
<line x1="1972.3" y1="1053.2" x2="1972.3" y2="1061.2" stroke="#000" stroke-width="1.6"/>
<text transform="translate(1976.8,1063.2) rotate(-90)" font-size="13" font-weight="bold" text-anchor="end" fill="#000">U71</text>
<line x1="1981.8" y1="1053.2" x2="1981.8" y2="1061.2" stroke="#000" stroke-width="1.6"/>
<text transform="translate(1986.3,1063.2) rotate(-90)" font-size="13" font-weight="bold" text-anchor="end" fill="#000">U70</text>
<line x1="1991.4" y1="1053.2" x2="1991.4" y2="1061.2" stroke="#000" stroke-width="1.6"/>
<text transform="translate(1995.9,1063.2) rotate(-90)" font-size="13" font-weight="bold" text-anchor="end" fill="#000">U84</text>
<line x1="2001.0" y1="1053.2" x2="2001.0" y2="1061.2" stroke="#000" stroke-width="1.6"/>
<text transform="translate(2005.5,1063.2) rotate(-90)" font-size="13" font-weight="bold" text-anchor="end" fill="#000">U21</text>
<line x1="2010.6" y1="1053.2" x2="2010.6" y2="1061.2" stroke="#000" stroke-width="1.6"/>
<text transform="translate(2015.1,1063.2) rotate(-90)" font-size="13" font-weight="bold" text-anchor="end" fill="#000">U56</text>
<line x1="2020.2" y1="1053.2" x2="2020.2" y2="1061.2" stroke="#000" stroke-width="1.6"/>
<text transform="translate(2024.7,1063.2) rotate(-90)" font-size="13" font-weight="bold" text-anchor="end" fill="#000">U46</text>
<line x1="2029.7" y1="1053.2" x2="2029.7" y2="1061.2" stroke="#000" stroke-width="1.6"/>
<text transform="translate(2034.2,1063.2) rotate(-90)" font-size="13" font-weight="bold" text-anchor="end" fill="#000">U91</text>
<line x1="2039.3" y1="1053.2" x2="2039.3" y2="1061.2" stroke="#000" stroke-width="1.6"/>
<text transform="translate(2043.8,1063.2) rotate(-90)" font-size="13" font-weight="bold" text-anchor="end" fill="#000">DR6-L</text>
<line x1="2048.9" y1="1053.2" x2="2048.9" y2="1061.2" stroke="#000" stroke-width="1.6"/>
<text transform="translate(2053.4,1063.2) rotate(-90)" font-size="13" font-weight="bold" text-anchor="end" fill="#000">U24A</text>
<line x1="2058.5" y1="1053.2" x2="2058.5" y2="1061.2" stroke="#000" stroke-width="1.6"/>
<text transform="translate(2063.0,1063.2) rotate(-90)" font-size="13" font-weight="bold" text-anchor="end" fill="#000">U24</text>
<clipPath id="clip1138"><rect x="1128.8" y="600" width="1000" height="455.5"/></clipPath>
<g clip-path="url(#clip1138)">
<rect x="1135.2" y="1032.3" width="7.2" height="7.2" fill="#154d6e"/>
<rect x="1144.8" y="1032.3" width="7.2" height="7.2" fill="#154d6e"/>
<rect x="1154.4" y="1032.3" width="7.2" height="7.2" fill="#154d6e"/>
<rect x="1163.9" y="1032.3" width="7.2" height="7.2" fill="#154d6e"/>
<rect x="1173.5" y="1028.9" width="7.2" height="7.2" fill="#154d6e"/>
<rect x="1183.1" y="1014.5" width="7.2" height="7.2" fill="#154d6e"/>
<rect x="1192.7" y="977.8" width="7.2" height="7.2" fill="#154d6e"/>
<rect x="1202.3" y="962.5" width="7.2" height="7.2" fill="#154d6e"/>
<rect x="1211.8" y="931.5" width="7.2" height="7.2" fill="#154d6e"/>
<rect x="1221.4" y="1032.3" width="7.2" height="7.2" fill="#154d6e"/>
<rect x="1231.0" y="1032.3" width="7.2" height="7.2" fill="#154d6e"/>
<rect x="1240.6" y="1032.3" width="7.2" height="7.2" fill="#154d6e"/>
<rect x="1250.2" y="1032.3" width="7.2" height="7.2" fill="#154d6e"/>
<rect x="1259.7" y="1032.3" width="7.2" height="7.2" fill="#154d6e"/>
<rect x="1269.3" y="1028.3" width="7.2" height="7.2" fill="#154d6e"/>
<rect x="1278.9" y="996.3" width="7.2" height="7.2" fill="#154d6e"/>
<rect x="1288.5" y="1032.3" width="7.2" height="7.2" fill="#154d6e"/>
<rect x="1298.1" y="1032.3" width="7.2" height="7.2" fill="#154d6e"/>
<rect x="1307.6" y="1032.3" width="7.2" height="7.2" fill="#154d6e"/>
<rect x="1317.2" y="1032.3" width="7.2" height="7.2" fill="#154d6e"/>
<rect x="1326.8" y="1032.3" width="7.2" height="7.2" fill="#154d6e"/>
<rect x="1336.4" y="1032.3" width="7.2" height="7.2" fill="#154d6e"/>
<rect x="1346.0" y="1032.3" width="7.2" height="7.2" fill="#154d6e"/>
<rect x="1355.5" y="1032.3" width="7.2" height="7.2" fill="#154d6e"/>
<rect x="1365.1" y="1032.3" width="7.2" height="7.2" fill="#154d6e"/>
<rect x="1374.7" y="1032.3" width="7.2" height="7.2" fill="#154d6e"/>
<rect x="1384.3" y="1032.3" width="7.2" height="7.2" fill="#154d6e"/>
<rect x="1393.9" y="1032.3" width="7.2" height="7.2" fill="#154d6e"/>
<rect x="1403.4" y="1032.3" width="7.2" height="7.2" fill="#154d6e"/>
<rect x="1413.0" y="1032.3" width="7.2" height="7.2" fill="#154d6e"/>
<rect x="1422.6" y="1032.3" width="7.2" height="7.2" fill="#154d6e"/>
<rect x="1432.2" y="1032.3" width="7.2" height="7.2" fill="#154d6e"/>
<rect x="1441.8" y="1032.3" width="7.2" height="7.2" fill="#154d6e"/>
<rect x="1451.3" y="1032.3" width="7.2" height="7.2" fill="#154d6e"/>
<rect x="1460.9" y="1032.3" width="7.2" height="7.2" fill="#154d6e"/>
<rect x="1470.5" y="1032.3" width="7.2" height="7.2" fill="#154d6e"/>
<rect x="1480.1" y="1032.3" width="7.2" height="7.2" fill="#154d6e"/>
<rect x="1489.7" y="1032.3" width="7.2" height="7.2" fill="#154d6e"/>
<rect x="1499.2" y="1032.3" width="7.2" height="7.2" fill="#154d6e"/>
<rect x="1508.8" y="1032.3" width="7.2" height="7.2" fill="#154d6e"/>
<rect x="1518.4" y="1031.8" width="7.2" height="7.2" fill="#154d6e"/>
<rect x="1528.0" y="1031.5" width="7.2" height="7.2" fill="#154d6e"/>
<rect x="1537.6" y="1031.5" width="7.2" height="7.2" fill="#154d6e"/>
<rect x="1547.1" y="1031.3" width="7.2" height="7.2" fill="#154d6e"/>
<rect x="1556.7" y="1030.7" width="7.2" height="7.2" fill="#154d6e"/>
<rect x="1566.3" y="1029.6" width="7.2" height="7.2" fill="#154d6e"/>
<rect x="1575.9" y="1028.5" width="7.2" height="7.2" fill="#154d6e"/>
<rect x="1585.5" y="1027.8" width="7.2" height="7.2" fill="#154d6e"/>
<rect x="1595.0" y="1027.6" width="7.2" height="7.2" fill="#154d6e"/>
<rect x="1604.6" y="1026.8" width="7.2" height="7.2" fill="#154d6e"/>
<rect x="1614.2" y="1026.6" width="7.2" height="7.2" fill="#154d6e"/>
<rect x="1623.8" y="1025.5" width="7.2" height="7.2" fill="#154d6e"/>
<rect x="1633.4" y="1024.3" width="7.2" height="7.2" fill="#154d6e"/>
<rect x="1642.9" y="1023.5" width="7.2" height="7.2" fill="#154d6e"/>
<rect x="1652.5" y="1017.9" width="7.2" height="7.2" fill="#154d6e"/>
<rect x="1662.1" y="1017.7" width="7.2" height="7.2" fill="#154d6e"/>
<rect x="1671.7" y="1016.0" width="7.2" height="7.2" fill="#154d6e"/>
<rect x="1681.3" y="1015.8" width="7.2" height="7.2" fill="#154d6e"/>
<rect x="1690.8" y="1015.3" width="7.2" height="7.2" fill="#154d6e"/>
<rect x="1700.4" y="1010.8" width="7.2" height="7.2" fill="#154d6e"/>
<rect x="1710.0" y="996.2" width="7.2" height="7.2" fill="#154d6e"/>
<rect x="1719.6" y="996.2" width="7.2" height="7.2" fill="#154d6e"/>
<rect x="1729.2" y="995.8" width="7.2" height="7.2" fill="#154d6e"/>
<rect x="1738.7" y="990.1" width="7.2" height="7.2" fill="#154d6e"/>
<rect x="1748.3" y="983.5" width="7.2" height="7.2" fill="#154d6e"/>
<rect x="1757.9" y="977.2" width="7.2" height="7.2" fill="#154d6e"/>
<rect x="1767.5" y="973.9" width="7.2" height="7.2" fill="#154d6e"/>
<rect x="1777.1" y="965.7" width="7.2" height="7.2" fill="#154d6e"/>
<rect x="1786.6" y="954.8" width="7.2" height="7.2" fill="#154d6e"/>
<rect x="1796.2" y="937.2" width="7.2" height="7.2" fill="#154d6e"/>
<rect x="1805.8" y="907.9" width="7.2" height="7.2" fill="#154d6e"/>
<rect x="1815.4" y="879.6" width="7.2" height="7.2" fill="#154d6e"/>
<rect x="1825.0" y="716.4" width="7.2" height="7.2" fill="#154d6e"/>
<rect x="1834.5" y="1032.3" width="7.2" height="7.2" fill="#154d6e"/>
<rect x="1844.1" y="1032.3" width="7.2" height="7.2" fill="#154d6e"/>
<rect x="1853.7" y="1032.3" width="7.2" height="7.2" fill="#154d6e"/>
<rect x="1863.3" y="1032.3" width="7.2" height="7.2" fill="#154d6e"/>
<rect x="1872.9" y="1032.3" width="7.2" height="7.2" fill="#154d6e"/>
<rect x="1882.4" y="1032.3" width="7.2" height="7.2" fill="#154d6e"/>
<rect x="1892.0" y="1032.3" width="7.2" height="7.2" fill="#154d6e"/>
<rect x="1901.6" y="1032.3" width="7.2" height="7.2" fill="#154d6e"/>
<rect x="1911.2" y="1032.3" width="7.2" height="7.2" fill="#154d6e"/>
<rect x="1920.8" y="1030.4" width="7.2" height="7.2" fill="#154d6e"/>
<rect x="1930.3" y="1028.9" width="7.2" height="7.2" fill="#154d6e"/>
<rect x="1939.9" y="1025.0" width="7.2" height="7.2" fill="#154d6e"/>
<rect x="1949.5" y="1023.2" width="7.2" height="7.2" fill="#154d6e"/>
<rect x="1959.1" y="1017.0" width="7.2" height="7.2" fill="#154d6e"/>
<rect x="1968.7" y="1015.6" width="7.2" height="7.2" fill="#154d6e"/>
<rect x="1978.2" y="1011.4" width="7.2" height="7.2" fill="#154d6e"/>
<rect x="1987.8" y="1005.6" width="7.2" height="7.2" fill="#154d6e"/>
<rect x="1997.4" y="997.5" width="7.2" height="7.2" fill="#154d6e"/>
<rect x="2007.0" y="994.1" width="7.2" height="7.2" fill="#154d6e"/>
<rect x="2016.6" y="988.5" width="7.2" height="7.2" fill="#154d6e"/>
<rect x="2026.1" y="984.1" width="7.2" height="7.2" fill="#154d6e"/>
<rect x="2035.7" y="961.1" width="7.2" height="7.2" fill="#154d6e"/>
<rect x="2045.3" y="945.4" width="7.2" height="7.2" fill="#154d6e"/>
<rect x="2054.9" y="921.8" width="7.2" height="7.2" fill="#154d6e"/>
</g>
<circle cx="1138.8" cy="1035.9" r="3.6" fill="#9eadb2"/>
<circle cx="1148.4" cy="1035.9" r="3.6" fill="#9eadb2"/>
<circle cx="1158.0" cy="1035.9" r="3.6" fill="#9eadb2"/>
<circle cx="1167.5" cy="1035.9" r="3.6" fill="#9eadb2"/>
<circle cx="1177.1" cy="1035.9" r="3.6" fill="#9eadb2"/>
<circle cx="1186.7" cy="1035.9" r="3.6" fill="#9eadb2"/>
<circle cx="1196.3" cy="1035.9" r="3.6" fill="#9eadb2"/>
<circle cx="1205.9" cy="1035.9" r="3.6" fill="#9eadb2"/>
<circle cx="1215.4" cy="1035.9" r="3.6" fill="#9eadb2"/>
<circle cx="1225.0" cy="1035.9" r="3.6" fill="#9eadb2"/>
<circle cx="1234.6" cy="1035.9" r="3.6" fill="#9eadb2"/>
<circle cx="1244.2" cy="1035.9" r="3.6" fill="#9eadb2"/>
<circle cx="1253.8" cy="1035.9" r="3.6" fill="#9eadb2"/>
<circle cx="1263.3" cy="1035.9" r="3.6" fill="#9eadb2"/>
<circle cx="1272.9" cy="1035.9" r="3.6" fill="#9eadb2"/>
<circle cx="1282.5" cy="1035.9" r="3.6" fill="#9eadb2"/>
<circle cx="1292.1" cy="1035.9" r="3.6" fill="#9eadb2"/>
<circle cx="1301.7" cy="1035.9" r="3.6" fill="#9eadb2"/>
<circle cx="1311.2" cy="1035.9" r="3.6" fill="#9eadb2"/>
<circle cx="1320.8" cy="1035.9" r="3.6" fill="#9eadb2"/>
<circle cx="1330.4" cy="1035.9" r="3.6" fill="#9eadb2"/>
<circle cx="1340.0" cy="1035.9" r="3.6" fill="#9eadb2"/>
<circle cx="1349.6" cy="1035.9" r="3.6" fill="#9eadb2"/>
<circle cx="1359.1" cy="1035.9" r="3.6" fill="#9eadb2"/>
<circle cx="1368.7" cy="1035.9" r="3.6" fill="#9eadb2"/>
<circle cx="1378.3" cy="1035.9" r="3.6" fill="#9eadb2"/>
<circle cx="1387.9" cy="1035.9" r="3.6" fill="#9eadb2"/>
<circle cx="1397.5" cy="1035.9" r="3.6" fill="#9eadb2"/>
<circle cx="1407.0" cy="1035.9" r="3.6" fill="#9eadb2"/>
<circle cx="1416.6" cy="1035.9" r="3.6" fill="#9eadb2"/>
<circle cx="1426.2" cy="1035.9" r="3.6" fill="#9eadb2"/>
<circle cx="1435.8" cy="1035.9" r="3.6" fill="#9eadb2"/>
<circle cx="1445.4" cy="1035.9" r="3.6" fill="#9eadb2"/>
<circle cx="1454.9" cy="1035.9" r="3.6" fill="#9eadb2"/>
<circle cx="1464.5" cy="1035.9" r="3.6" fill="#9eadb2"/>
<circle cx="1474.1" cy="1035.9" r="3.6" fill="#9eadb2"/>
<circle cx="1483.7" cy="1035.9" r="3.6" fill="#9eadb2"/>
<circle cx="1493.3" cy="1035.9" r="3.6" fill="#9eadb2"/>
<circle cx="1502.8" cy="1035.9" r="3.6" fill="#9eadb2"/>
<circle cx="1512.4" cy="1035.9" r="3.6" fill="#9eadb2"/>
<circle cx="1522.0" cy="1035.9" r="3.6" fill="#9eadb2"/>
<circle cx="1531.6" cy="1035.9" r="3.6" fill="#9eadb2"/>
<circle cx="1541.2" cy="1035.9" r="3.6" fill="#9eadb2"/>
<circle cx="1550.7" cy="1035.9" r="3.6" fill="#9eadb2"/>
<circle cx="1560.3" cy="1035.9" r="3.6" fill="#9eadb2"/>
<circle cx="1569.9" cy="1035.9" r="3.6" fill="#9eadb2"/>
<circle cx="1579.5" cy="1035.9" r="3.6" fill="#9eadb2"/>
<circle cx="1589.1" cy="1035.9" r="3.6" fill="#9eadb2"/>
<circle cx="1598.6" cy="1035.9" r="3.6" fill="#9eadb2"/>
<circle cx="1608.2" cy="1035.9" r="3.6" fill="#9eadb2"/>
<circle cx="1617.8" cy="1035.9" r="3.6" fill="#9eadb2"/>
<circle cx="1627.4" cy="1035.9" r="3.6" fill="#9eadb2"/>
<circle cx="1637.0" cy="1035.9" r="3.6" fill="#9eadb2"/>
<circle cx="1646.5" cy="1035.9" r="3.6" fill="#9eadb2"/>
<circle cx="1656.1" cy="1035.9" r="3.6" fill="#9eadb2"/>
<circle cx="1665.7" cy="1035.9" r="3.6" fill="#9eadb2"/>
<circle cx="1675.3" cy="1035.9" r="3.6" fill="#9eadb2"/>
<circle cx="1684.9" cy="1035.9" r="3.6" fill="#9eadb2"/>
<circle cx="1694.4" cy="1035.9" r="3.6" fill="#9eadb2"/>
<circle cx="1704.0" cy="1035.9" r="3.6" fill="#9eadb2"/>
<circle cx="1713.6" cy="1035.9" r="3.6" fill="#9eadb2"/>
<circle cx="1723.2" cy="1035.9" r="3.6" fill="#9eadb2"/>
<circle cx="1732.8" cy="1035.9" r="3.6" fill="#9eadb2"/>
<circle cx="1742.3" cy="1035.9" r="3.6" fill="#9eadb2"/>
<circle cx="1751.9" cy="1035.9" r="3.6" fill="#9eadb2"/>
<circle cx="1761.5" cy="1035.9" r="3.6" fill="#9eadb2"/>
<circle cx="1771.1" cy="1035.9" r="3.6" fill="#9eadb2"/>
<circle cx="1780.7" cy="1035.9" r="3.6" fill="#9eadb2"/>
<circle cx="1790.2" cy="1035.9" r="3.6" fill="#9eadb2"/>
<circle cx="1799.8" cy="1035.9" r="3.6" fill="#9eadb2"/>
<circle cx="1809.4" cy="1035.9" r="3.6" fill="#9eadb2"/>
<circle cx="1819.0" cy="1035.9" r="3.6" fill="#9eadb2"/>
<circle cx="1828.6" cy="1035.9" r="3.6" fill="#9eadb2"/>
<circle cx="1838.1" cy="1035.9" r="3.6" fill="#9eadb2"/>
<circle cx="1847.7" cy="1035.9" r="3.6" fill="#9eadb2"/>
<circle cx="1857.3" cy="1035.9" r="3.6" fill="#9eadb2"/>
<circle cx="1866.9" cy="1035.9" r="3.6" fill="#9eadb2"/>
<circle cx="1876.5" cy="1035.9" r="3.6" fill="#9eadb2"/>
<circle cx="1886.0" cy="1035.9" r="3.6" fill="#9eadb2"/>
<circle cx="1895.6" cy="1035.9" r="3.6" fill="#9eadb2"/>
<circle cx="1905.2" cy="1035.9" r="3.6" fill="#9eadb2"/>
<circle cx="1914.8" cy="1035.9" r="3.6" fill="#9eadb2"/>
<circle cx="1924.4" cy="1035.9" r="3.6" fill="#9eadb2"/>
<circle cx="1933.9" cy="1035.9" r="3.6" fill="#9eadb2"/>
<circle cx="1943.5" cy="1035.9" r="3.6" fill="#9eadb2"/>
<circle cx="1953.1" cy="1035.9" r="3.6" fill="#9eadb2"/>
<circle cx="1962.7" cy="1035.9" r="3.6" fill="#9eadb2"/>
<circle cx="1972.3" cy="1035.9" r="3.6" fill="#9eadb2"/>
<circle cx="1981.8" cy="1035.9" r="3.6" fill="#9eadb2"/>
<circle cx="1991.4" cy="1035.9" r="3.6" fill="#9eadb2"/>
<circle cx="2001.0" cy="1035.9" r="3.6" fill="#9eadb2"/>
<circle cx="2010.6" cy="1035.9" r="3.6" fill="#9eadb2"/>
<circle cx="2020.2" cy="1035.9" r="3.6" fill="#9eadb2"/>
<circle cx="2029.7" cy="1035.9" r="3.6" fill="#9eadb2"/>
<circle cx="2039.3" cy="1035.9" r="3.6" fill="#9eadb2"/>
<circle cx="2048.9" cy="1035.9" r="3.6" fill="#9eadb2"/>
<circle cx="2058.5" cy="1035.9" r="3.6" fill="#9eadb2"/>
<text x="1562" y="667.8" font-size="25.7" font-weight="bold" fill="#000">Donor D98</text>
<circle cx="1967.8" cy="719.3" r="3.4" fill="#a2afb6"/>
<rect x="1964.1" y="740.8" width="7.4" height="7.4" fill="#154d6e"/>
<text x="1988.3" y="725.5999999999999" font-size="17.6" fill="#000">Day 1</text>
<text x="1988.3" y="750.5999999999999" font-size="17.6" fill="#000">Day 19</text>
<text x="1532" y="1143.5" font-size="30.3" fill="#000">all HHV-6B genes</text>
<text transform="translate(59.6,941.5) rotate(-90)" font-size="20" font-weight="bold" textLength="135" lengthAdjust="spacingAndGlyphs" fill="#000">mRNA Counts</text>
<text transform="translate(1089.6,937.5) rotate(-90)" font-size="20" font-weight="bold" textLength="135" lengthAdjust="spacingAndGlyphs" fill="#000">mRNA Counts</text>
</svg>
</body></html>
